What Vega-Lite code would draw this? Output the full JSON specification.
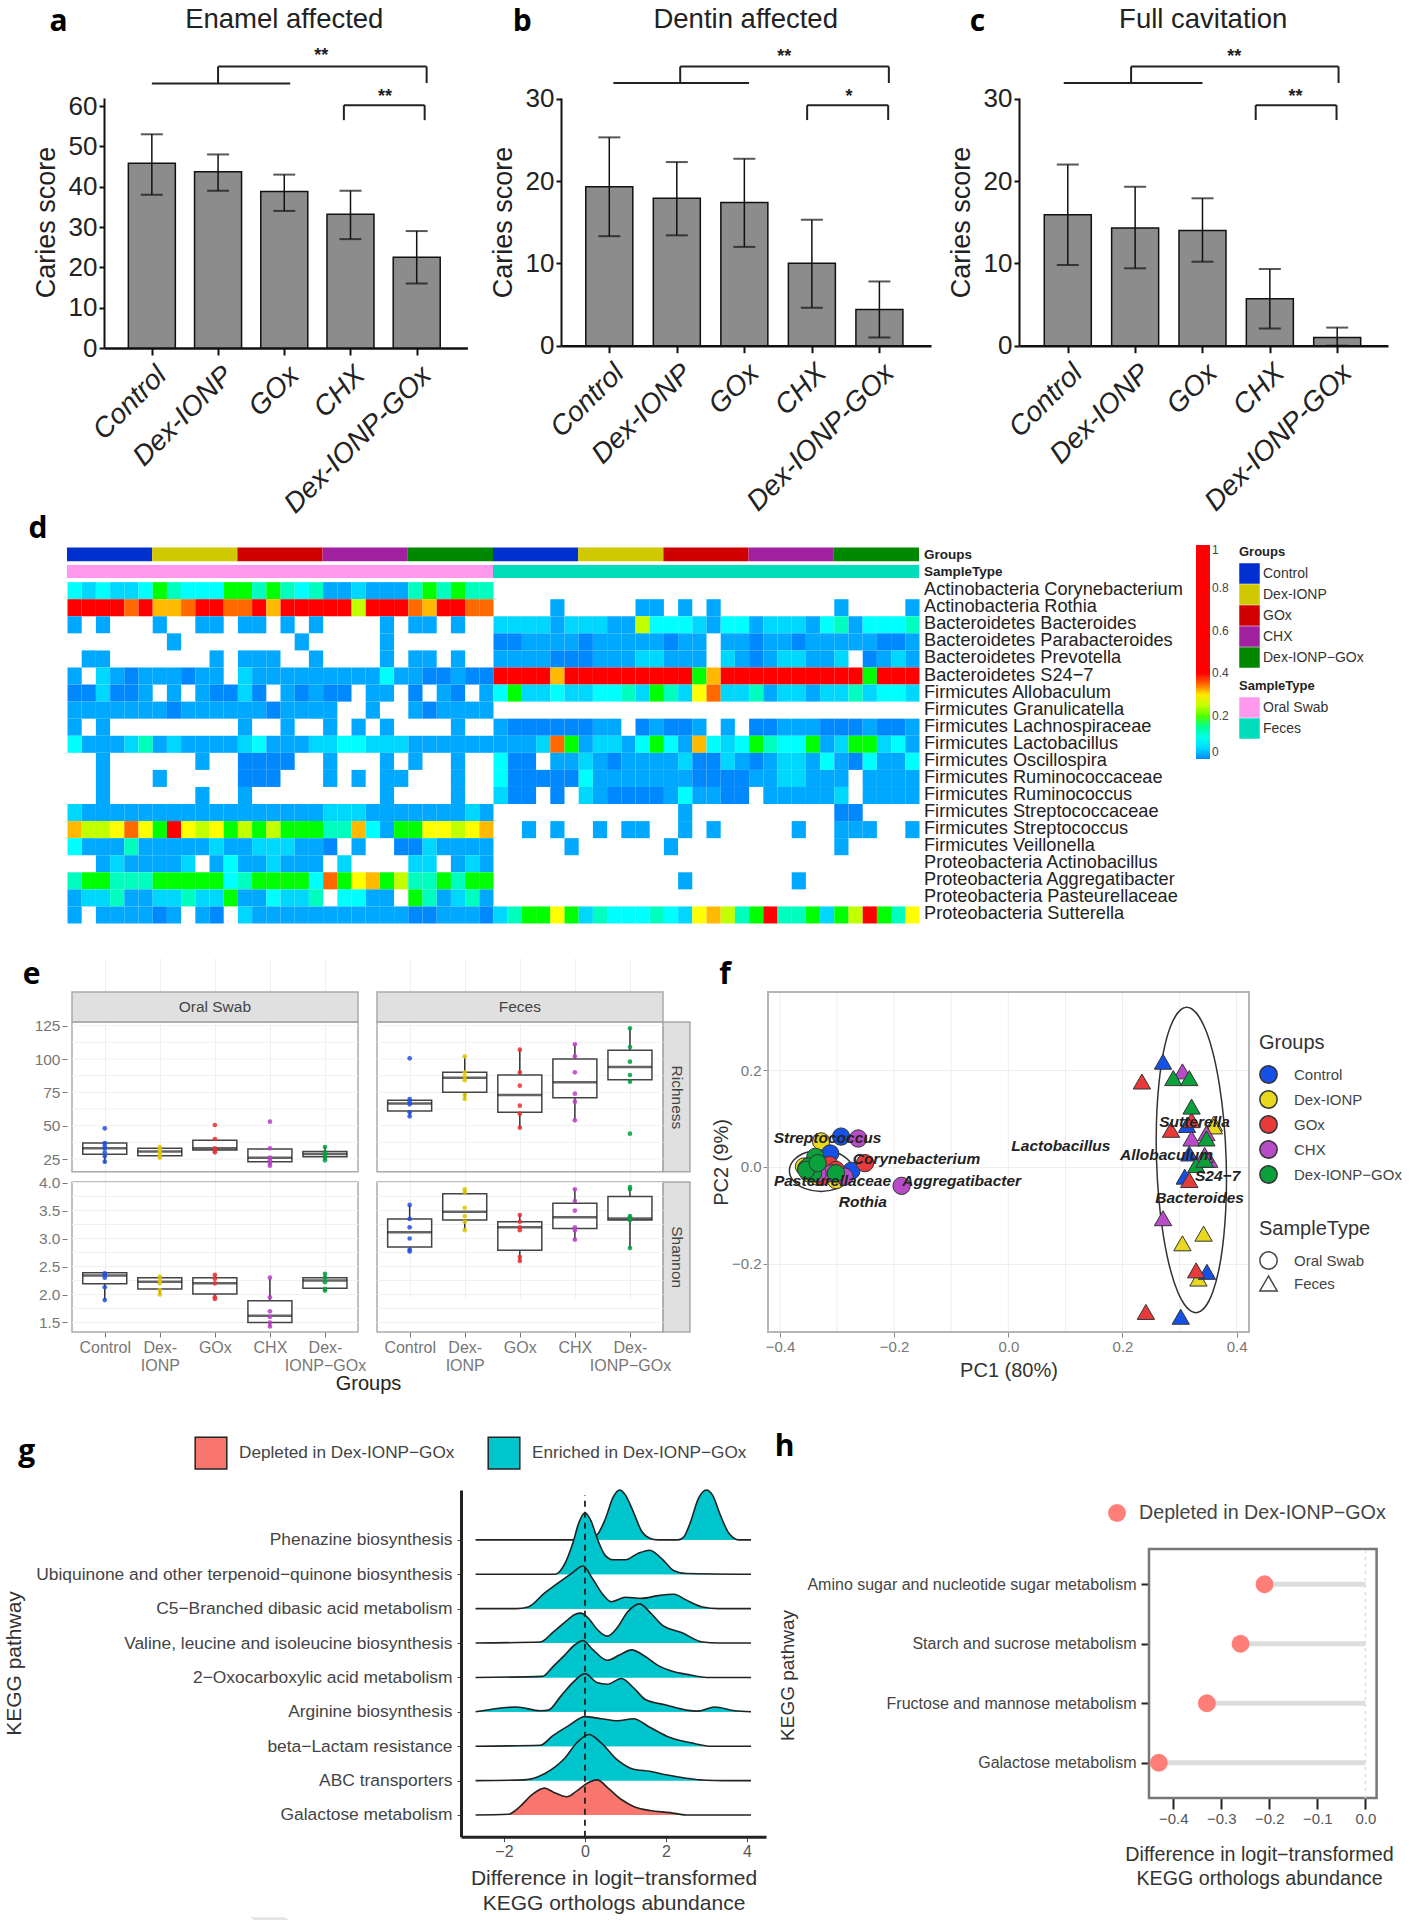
{"$schema":"https://vega.github.io/schema/vega-lite/v6.json","background":"white","padding":0,"spacing":-5,"resolve":{"scale":{"color":"independent","fill":"independent","shape":"independent"}},
"config":{"font":"Liberation Sans","view":{"stroke":null},"axis":{"grid":false}},
"datasets":{
"boxOR":[{"g":1,"q1":28.5,"med":33,"q3":37,"lo":22,"hi":38},{"g":2,"q1":27.5,"med":30.7,"q3":33,"lo":26,"hi":34},{"g":3,"q1":31.7,"med":33,"q3":39,"lo":30,"hi":40},{"g":4,"q1":23,"med":26,"q3":32.5,"lo":20,"hi":33},{"g":5,"q1":26.7,"med":28.7,"q3":30.7,"lo":24,"hi":34}],
"ptsOR":[{"g":1,"v":48},{"g":1,"v":37},{"g":1,"v":35},{"g":1,"v":33},{"g":1,"v":30},{"g":1,"v":27},{"g":1,"v":23},{"g":2,"v":34},{"g":2,"v":32},{"g":2,"v":30},{"g":2,"v":28},{"g":2,"v":26},{"g":3,"v":50.5},{"g":3,"v":40},{"g":3,"v":33},{"g":3,"v":31},{"g":3,"v":30},{"g":4,"v":53},{"g":4,"v":33},{"g":4,"v":26},{"g":4,"v":24},{"g":4,"v":22},{"g":4,"v":20},{"g":5,"v":34},{"g":5,"v":30},{"g":5,"v":28},{"g":5,"v":26},{"g":5,"v":24}],
"boxOS":[{"g":1,"q1":2.19,"med":2.34,"q3":2.39,"lo":1.9,"hi":2.39},{"g":2,"q1":2.1,"med":2.23,"q3":2.3,"lo":2,"hi":2.32},{"g":3,"q1":2.01,"med":2.2,"q3":2.3,"lo":1.92,"hi":2.35},{"g":4,"q1":1.5,"med":1.62,"q3":1.89,"lo":1.43,"hi":2.3},{"g":5,"q1":2.11,"med":2.25,"q3":2.3,"lo":2.07,"hi":2.37}],
"ptsOS":[{"g":1,"v":2.38},{"g":1,"v":2.35},{"g":1,"v":2.3},{"g":1,"v":2.13},{"g":1,"v":1.9},{"g":2,"v":2.32},{"g":2,"v":2.25},{"g":2,"v":2.2},{"g":2,"v":2.08},{"g":2,"v":2},{"g":3,"v":2.35},{"g":3,"v":2.28},{"g":3,"v":2.2},{"g":3,"v":1.95},{"g":3,"v":1.92},{"g":4,"v":2.3},{"g":4,"v":1.95},{"g":4,"v":1.7},{"g":4,"v":1.6},{"g":4,"v":1.5},{"g":4,"v":1.43},{"g":5,"v":2.37},{"g":5,"v":2.3},{"g":5,"v":2.22},{"g":5,"v":2.1},{"g":5,"v":2.07}],
"boxFR":[{"g":1,"q1":61,"med":66.7,"q3":69,"lo":57,"hi":70},{"g":2,"q1":75,"med":86,"q3":90,"lo":70,"hi":102},{"g":3,"q1":60,"med":73,"q3":88,"lo":48.5,"hi":107},{"g":4,"q1":71,"med":82.5,"q3":100,"lo":54,"hi":111},{"g":5,"q1":84.5,"med":94,"q3":106.5,"lo":83,"hi":123}],
"ptsFR":[{"g":1,"v":100.5},{"g":1,"v":70},{"g":1,"v":68},{"g":1,"v":66},{"g":1,"v":60},{"g":1,"v":57},{"g":2,"v":102},{"g":2,"v":90},{"g":2,"v":87},{"g":2,"v":84},{"g":2,"v":73},{"g":2,"v":70},{"g":3,"v":107},{"g":3,"v":90},{"g":3,"v":80},{"g":3,"v":65},{"g":3,"v":59},{"g":3,"v":48.5},{"g":4,"v":111},{"g":4,"v":102},{"g":4,"v":90},{"g":4,"v":74},{"g":4,"v":68},{"g":4,"v":54},{"g":5,"v":123},{"g":5,"v":109},{"g":5,"v":98},{"g":5,"v":88},{"g":5,"v":83},{"g":5,"v":44}],
"boxFS":[{"g":1,"q1":2.85,"med":3.11,"q3":3.35,"lo":2.77,"hi":3.6},{"g":2,"q1":3.33,"med":3.48,"q3":3.8,"lo":3.15,"hi":3.88},{"g":3,"q1":2.79,"med":3.2,"q3":3.3,"lo":2.6,"hi":3.42},{"g":4,"q1":3.18,"med":3.38,"q3":3.63,"lo":2.98,"hi":3.88},{"g":5,"q1":3.33,"med":3.36,"q3":3.75,"lo":2.83,"hi":3.92}],
"ptsFS":[{"g":1,"v":3.6},{"g":1,"v":3.35},{"g":1,"v":3.2},{"g":1,"v":3},{"g":1,"v":2.8},{"g":1,"v":2.77},{"g":2,"v":3.88},{"g":2,"v":3.83},{"g":2,"v":3.55},{"g":2,"v":3.4},{"g":2,"v":3.3},{"g":2,"v":3.15},{"g":3,"v":3.42},{"g":3,"v":3.3},{"g":3,"v":3.2},{"g":3,"v":3.15},{"g":3,"v":2.67},{"g":3,"v":2.6},{"g":4,"v":3.88},{"g":4,"v":3.67},{"g":4,"v":3.5},{"g":4,"v":3.2},{"g":4,"v":3.15},{"g":4,"v":2.98},{"g":5,"v":3.92},{"g":5,"v":3.88},{"g":5,"v":3.4},{"g":5,"v":3.37},{"g":5,"v":3.33},{"g":5,"v":2.83}],
"heat":[
{"r":0,"c":0,"v":0.08},{"r":0,"c":1,"v":0.05},{"r":0,"c":2,"v":0.08},{"r":0,"c":3,"v":0.05},{"r":0,"c":4,"v":0.05},{"r":0,"c":5,"v":0.08},{"r":0,"c":6,"v":0.19},{"r":0,"c":7,"v":0.13},{"r":0,"c":8,"v":0.08},{"r":0,"c":9,"v":0.08},{"r":0,"c":10,"v":0.08},{"r":0,"c":11,"v":0.19},{"r":0,"c":12,"v":0.19},{"r":0,"c":13,"v":0.13},{"r":0,"c":14,"v":0.19},{"r":0,"c":15,"v":0.13},{"r":0,"c":16,"v":0.08},{"r":0,"c":17,"v":0.13},{"r":0,"c":18,"v":0.02},{"r":0,"c":19,"v":0.02},{"r":0,"c":20,"v":0.05},{"r":0,"c":21,"v":0.02},{"r":0,"c":22,"v":0.02},{"r":0,"c":23,"v":0.02},{"r":0,"c":24,"v":0.13},{"r":0,"c":25,"v":0.19},{"r":0,"c":26,"v":0.13},{"r":0,"c":27,"v":0.19},{"r":0,"c":28,"v":0.13},{"r":0,"c":29,"v":0.13},
{"r":1,"c":0,"v":0.6},{"r":1,"c":1,"v":0.6},{"r":1,"c":2,"v":0.6},{"r":1,"c":3,"v":0.6},{"r":1,"c":4,"v":0.35},{"r":1,"c":5,"v":0.6},{"r":1,"c":6,"v":0.32},{"r":1,"c":7,"v":0.32},{"r":1,"c":8,"v":0.35},{"r":1,"c":9,"v":0.6},{"r":1,"c":10,"v":0.6},{"r":1,"c":11,"v":0.35},{"r":1,"c":12,"v":0.35},{"r":1,"c":13,"v":0.6},{"r":1,"c":14,"v":0.32},{"r":1,"c":15,"v":0.6},{"r":1,"c":16,"v":0.6},{"r":1,"c":17,"v":0.6},{"r":1,"c":18,"v":0.6},{"r":1,"c":19,"v":0.6},{"r":1,"c":20,"v":0.25},{"r":1,"c":21,"v":0.6},{"r":1,"c":22,"v":0.6},{"r":1,"c":23,"v":0.6},{"r":1,"c":24,"v":0.35},{"r":1,"c":25,"v":0.32},{"r":1,"c":26,"v":0.6},{"r":1,"c":27,"v":0.6},{"r":1,"c":28,"v":0.35},{"r":1,"c":29,"v":0.35},{"r":1,"c":34,"v":0.02},{"r":1,"c":40,"v":0.02},{"r":1,"c":41,"v":0.02},{"r":1,"c":43,"v":0.02},{"r":1,"c":45,"v":0.02},{"r":1,"c":54,"v":0.02},{"r":1,"c":59,"v":0.02},
{"r":2,"c":0,"v":0.02},{"r":2,"c":2,"v":0.02},{"r":2,"c":6,"v":0.02},{"r":2,"c":9,"v":0.02},{"r":2,"c":10,"v":0.02},{"r":2,"c":12,"v":0.02},{"r":2,"c":13,"v":0.02},{"r":2,"c":15,"v":0.02},{"r":2,"c":17,"v":0.02},{"r":2,"c":22,"v":0.02},{"r":2,"c":24,"v":0.02},{"r":2,"c":25,"v":0.02},{"r":2,"c":27,"v":0.02},{"r":2,"c":30,"v":0.05},{"r":2,"c":31,"v":0.05},{"r":2,"c":32,"v":0.05},{"r":2,"c":33,"v":0.05},{"r":2,"c":34,"v":0.02},{"r":2,"c":35,"v":0.05},{"r":2,"c":36,"v":0.05},{"r":2,"c":37,"v":0.05},{"r":2,"c":38,"v":0.02},{"r":2,"c":39,"v":0.02},{"r":2,"c":40,"v":0.25},{"r":2,"c":41,"v":0.08},{"r":2,"c":42,"v":0.08},{"r":2,"c":43,"v":0.08},{"r":2,"c":44,"v":0.05},{"r":2,"c":45,"v":0.02},{"r":2,"c":46,"v":0.08},{"r":2,"c":47,"v":0.08},{"r":2,"c":48,"v":0.02},{"r":2,"c":49,"v":0.05},{"r":2,"c":50,"v":0.05},{"r":2,"c":51,"v":0.05},{"r":2,"c":52,"v":0.02},{"r":2,"c":53,"v":0.08},{"r":2,"c":54,"v":0.13},{"r":2,"c":55,"v":0.02},{"r":2,"c":56,"v":0.08},{"r":2,"c":57,"v":0.08},{"r":2,"c":58,"v":0.08},{"r":2,"c":59,"v":0.13},
{"r":3,"c":7,"v":0.02},{"r":3,"c":16,"v":0.02},{"r":3,"c":22,"v":0.02},{"r":3,"c":30,"v":0},{"r":3,"c":31,"v":0},{"r":3,"c":32,"v":0.02},{"r":3,"c":33,"v":0.02},{"r":3,"c":34,"v":0.02},{"r":3,"c":35,"v":0.02},{"r":3,"c":36,"v":0},{"r":3,"c":37,"v":0.02},{"r":3,"c":38,"v":0.02},{"r":3,"c":39,"v":0.02},{"r":3,"c":40,"v":0.02},{"r":3,"c":41,"v":0.02},{"r":3,"c":42,"v":0},{"r":3,"c":43,"v":0.02},{"r":3,"c":44,"v":0.02},{"r":3,"c":46,"v":0.02},{"r":3,"c":47,"v":0.02},{"r":3,"c":48,"v":0},{"r":3,"c":49,"v":0.02},{"r":3,"c":50,"v":0.02},{"r":3,"c":51,"v":0},{"r":3,"c":52,"v":0.02},{"r":3,"c":53,"v":0.02},{"r":3,"c":54,"v":0.02},{"r":3,"c":55,"v":0.02},{"r":3,"c":56,"v":0.02},{"r":3,"c":57,"v":0},{"r":3,"c":58,"v":0},{"r":3,"c":59,"v":0.02},
{"r":4,"c":1,"v":0.02},{"r":4,"c":2,"v":0.02},{"r":4,"c":10,"v":0.02},{"r":4,"c":12,"v":0.02},{"r":4,"c":13,"v":0.02},{"r":4,"c":14,"v":0.02},{"r":4,"c":17,"v":0.02},{"r":4,"c":22,"v":0.02},{"r":4,"c":24,"v":0.02},{"r":4,"c":25,"v":0.02},{"r":4,"c":27,"v":0.02},{"r":4,"c":30,"v":0.02},{"r":4,"c":31,"v":0.02},{"r":4,"c":32,"v":0.02},{"r":4,"c":33,"v":0.02},{"r":4,"c":34,"v":0},{"r":4,"c":35,"v":0},{"r":4,"c":36,"v":0},{"r":4,"c":37,"v":0.02},{"r":4,"c":38,"v":0.02},{"r":4,"c":39,"v":0.02},{"r":4,"c":40,"v":0.05},{"r":4,"c":41,"v":0.05},{"r":4,"c":42,"v":0.02},{"r":4,"c":43,"v":0.02},{"r":4,"c":44,"v":0.02},{"r":4,"c":46,"v":0.05},{"r":4,"c":47,"v":0.02},{"r":4,"c":48,"v":0},{"r":4,"c":49,"v":0.02},{"r":4,"c":50,"v":0.05},{"r":4,"c":51,"v":0.05},{"r":4,"c":52,"v":0.02},{"r":4,"c":53,"v":0.02},{"r":4,"c":54,"v":0.05},{"r":4,"c":56,"v":0},{"r":4,"c":57,"v":0.02},{"r":4,"c":58,"v":0.05},{"r":4,"c":59,"v":0.02},
{"r":5,"c":0,"v":0.02},{"r":5,"c":2,"v":0.05},{"r":5,"c":3,"v":0.02},{"r":5,"c":4,"v":0},{"r":5,"c":5,"v":0.02},{"r":5,"c":6,"v":0.02},{"r":5,"c":7,"v":0.02},{"r":5,"c":8,"v":0},{"r":5,"c":9,"v":0.02},{"r":5,"c":10,"v":0.02},{"r":5,"c":12,"v":0.05},{"r":5,"c":13,"v":0.02},{"r":5,"c":14,"v":0.02},{"r":5,"c":15,"v":0.02},{"r":5,"c":16,"v":0.02},{"r":5,"c":17,"v":0.02},{"r":5,"c":18,"v":0.02},{"r":5,"c":19,"v":0.02},{"r":5,"c":20,"v":0.02},{"r":5,"c":21,"v":0.02},{"r":5,"c":22,"v":0.08},{"r":5,"c":23,"v":0.02},{"r":5,"c":24,"v":0.02},{"r":5,"c":25,"v":0},{"r":5,"c":26,"v":0},{"r":5,"c":27,"v":0.02},{"r":5,"c":28,"v":0},{"r":5,"c":29,"v":0},{"r":5,"c":30,"v":0.6},{"r":5,"c":31,"v":0.6},{"r":5,"c":32,"v":0.6},{"r":5,"c":33,"v":0.6},{"r":5,"c":34,"v":0.32},{"r":5,"c":35,"v":0.6},{"r":5,"c":36,"v":0.6},{"r":5,"c":37,"v":0.6},{"r":5,"c":38,"v":0.6},{"r":5,"c":39,"v":0.6},{"r":5,"c":40,"v":0.6},{"r":5,"c":41,"v":0.6},{"r":5,"c":42,"v":0.6},{"r":5,"c":43,"v":0.6},{"r":5,"c":44,"v":0.19},{"r":5,"c":45,"v":0.32},{"r":5,"c":46,"v":0.6},{"r":5,"c":47,"v":0.6},{"r":5,"c":48,"v":0.6},{"r":5,"c":49,"v":0.6},{"r":5,"c":50,"v":0.6},{"r":5,"c":51,"v":0.6},{"r":5,"c":52,"v":0.6},{"r":5,"c":53,"v":0.6},{"r":5,"c":54,"v":0.6},{"r":5,"c":55,"v":0.6},{"r":5,"c":56,"v":0.19},{"r":5,"c":57,"v":0.6},{"r":5,"c":58,"v":0.6},{"r":5,"c":59,"v":0.6},
{"r":6,"c":0,"v":0},{"r":6,"c":1,"v":0},{"r":6,"c":2,"v":0.05},{"r":6,"c":3,"v":0},{"r":6,"c":4,"v":0},{"r":6,"c":5,"v":0.02},{"r":6,"c":7,"v":0.02},{"r":6,"c":9,"v":0.02},{"r":6,"c":10,"v":0},{"r":6,"c":11,"v":0},{"r":6,"c":12,"v":0.05},{"r":6,"c":13,"v":0},{"r":6,"c":15,"v":0.02},{"r":6,"c":16,"v":0},{"r":6,"c":17,"v":0.02},{"r":6,"c":18,"v":0},{"r":6,"c":19,"v":0},{"r":6,"c":21,"v":0.02},{"r":6,"c":22,"v":0.02},{"r":6,"c":24,"v":0},{"r":6,"c":26,"v":0.02},{"r":6,"c":27,"v":0},{"r":6,"c":29,"v":0.02},{"r":6,"c":30,"v":0.08},{"r":6,"c":31,"v":0.19},{"r":6,"c":32,"v":0.05},{"r":6,"c":33,"v":0.05},{"r":6,"c":34,"v":0.08},{"r":6,"c":35,"v":0.05},{"r":6,"c":36,"v":0.05},{"r":6,"c":37,"v":0.08},{"r":6,"c":38,"v":0.08},{"r":6,"c":39,"v":0.13},{"r":6,"c":40,"v":0.05},{"r":6,"c":41,"v":0.19},{"r":6,"c":42,"v":0.13},{"r":6,"c":43,"v":0.05},{"r":6,"c":44,"v":0.29},{"r":6,"c":45,"v":0.35},{"r":6,"c":46,"v":0.05},{"r":6,"c":47,"v":0.05},{"r":6,"c":48,"v":0.13},{"r":6,"c":49,"v":0.02},{"r":6,"c":50,"v":0.05},{"r":6,"c":51,"v":0.05},{"r":6,"c":52,"v":0.02},{"r":6,"c":53,"v":0.05},{"r":6,"c":54,"v":0.05},{"r":6,"c":55,"v":0.13},{"r":6,"c":56,"v":0.05},{"r":6,"c":57,"v":0.08},{"r":6,"c":58,"v":0.08},{"r":6,"c":59,"v":0.05},
{"r":7,"c":0,"v":0.02},{"r":7,"c":1,"v":0.02},{"r":7,"c":2,"v":0.02},{"r":7,"c":3,"v":0.02},{"r":7,"c":4,"v":0.02},{"r":7,"c":5,"v":0.02},{"r":7,"c":6,"v":0.02},{"r":7,"c":7,"v":0},{"r":7,"c":8,"v":0.02},{"r":7,"c":9,"v":0.02},{"r":7,"c":10,"v":0.02},{"r":7,"c":11,"v":0.02},{"r":7,"c":12,"v":0.02},{"r":7,"c":13,"v":0.02},{"r":7,"c":14,"v":0},{"r":7,"c":15,"v":0.02},{"r":7,"c":16,"v":0.02},{"r":7,"c":17,"v":0.02},{"r":7,"c":18,"v":0.02},{"r":7,"c":21,"v":0.02},{"r":7,"c":24,"v":0.02},{"r":7,"c":25,"v":0},{"r":7,"c":26,"v":0.02},{"r":7,"c":27,"v":0.02},{"r":7,"c":28,"v":0.02},{"r":7,"c":29,"v":0.02},
{"r":8,"c":0,"v":0.02},{"r":8,"c":2,"v":0.02},{"r":8,"c":12,"v":0.02},{"r":8,"c":15,"v":0.02},{"r":8,"c":18,"v":0.02},{"r":8,"c":20,"v":0.02},{"r":8,"c":22,"v":0.02},{"r":8,"c":27,"v":0.02},{"r":8,"c":30,"v":0.02},{"r":8,"c":31,"v":0},{"r":8,"c":32,"v":0},{"r":8,"c":33,"v":0},{"r":8,"c":34,"v":0},{"r":8,"c":35,"v":0},{"r":8,"c":36,"v":0},{"r":8,"c":37,"v":0.02},{"r":8,"c":38,"v":0.02},{"r":8,"c":40,"v":0},{"r":8,"c":41,"v":0.02},{"r":8,"c":42,"v":0},{"r":8,"c":43,"v":0},{"r":8,"c":44,"v":0.02},{"r":8,"c":46,"v":0.02},{"r":8,"c":48,"v":0},{"r":8,"c":49,"v":0},{"r":8,"c":50,"v":0.02},{"r":8,"c":51,"v":0.02},{"r":8,"c":52,"v":0.02},{"r":8,"c":53,"v":0},{"r":8,"c":54,"v":0},{"r":8,"c":55,"v":0},{"r":8,"c":56,"v":0.02},{"r":8,"c":57,"v":0},{"r":8,"c":58,"v":0},{"r":8,"c":59,"v":0.02},
{"r":9,"c":0,"v":0.08},{"r":9,"c":1,"v":0.02},{"r":9,"c":2,"v":0.02},{"r":9,"c":3,"v":0.02},{"r":9,"c":4,"v":0.05},{"r":9,"c":5,"v":0.13},{"r":9,"c":6,"v":0.02},{"r":9,"c":7,"v":0.05},{"r":9,"c":8,"v":0.02},{"r":9,"c":9,"v":0.02},{"r":9,"c":10,"v":0.02},{"r":9,"c":11,"v":0.02},{"r":9,"c":12,"v":0.05},{"r":9,"c":13,"v":0.08},{"r":9,"c":14,"v":0.02},{"r":9,"c":15,"v":0.02},{"r":9,"c":16,"v":0.02},{"r":9,"c":17,"v":0.05},{"r":9,"c":18,"v":0.05},{"r":9,"c":19,"v":0.08},{"r":9,"c":20,"v":0.08},{"r":9,"c":21,"v":0.05},{"r":9,"c":22,"v":0.05},{"r":9,"c":23,"v":0.05},{"r":9,"c":24,"v":0.02},{"r":9,"c":25,"v":0.02},{"r":9,"c":26,"v":0.02},{"r":9,"c":27,"v":0.02},{"r":9,"c":28,"v":0.02},{"r":9,"c":29,"v":0.02},{"r":9,"c":30,"v":0.02},{"r":9,"c":31,"v":0.02},{"r":9,"c":32,"v":0.02},{"r":9,"c":33,"v":0.05},{"r":9,"c":34,"v":0.35},{"r":9,"c":35,"v":0.19},{"r":9,"c":36,"v":0.02},{"r":9,"c":37,"v":0.05},{"r":9,"c":38,"v":0.05},{"r":9,"c":39,"v":0.02},{"r":9,"c":40,"v":0.08},{"r":9,"c":41,"v":0.19},{"r":9,"c":42,"v":0.08},{"r":9,"c":43,"v":0.02},{"r":9,"c":44,"v":0.32},{"r":9,"c":45,"v":0.08},{"r":9,"c":46,"v":0.05},{"r":9,"c":47,"v":0.08},{"r":9,"c":48,"v":0.19},{"r":9,"c":49,"v":0.13},{"r":9,"c":50,"v":0.08},{"r":9,"c":51,"v":0.08},{"r":9,"c":52,"v":0.19},{"r":9,"c":53,"v":0.02},{"r":9,"c":54,"v":0.05},{"r":9,"c":55,"v":0.19},{"r":9,"c":56,"v":0.19},{"r":9,"c":57,"v":0.05},{"r":9,"c":58,"v":0.08},{"r":9,"c":59,"v":0.02},
{"r":10,"c":2,"v":0.02},{"r":10,"c":9,"v":0.02},{"r":10,"c":12,"v":0},{"r":10,"c":13,"v":0},{"r":10,"c":14,"v":0},{"r":10,"c":15,"v":0},{"r":10,"c":18,"v":0.02},{"r":10,"c":22,"v":0.02},{"r":10,"c":24,"v":0.02},{"r":10,"c":27,"v":0.02},{"r":10,"c":30,"v":0.08},{"r":10,"c":31,"v":0},{"r":10,"c":32,"v":0},{"r":10,"c":34,"v":0.02},{"r":10,"c":35,"v":0.02},{"r":10,"c":36,"v":0.05},{"r":10,"c":37,"v":0.02},{"r":10,"c":38,"v":0},{"r":10,"c":39,"v":0.02},{"r":10,"c":40,"v":0.02},{"r":10,"c":41,"v":0.02},{"r":10,"c":42,"v":0.02},{"r":10,"c":43,"v":0.05},{"r":10,"c":44,"v":0},{"r":10,"c":45,"v":0},{"r":10,"c":46,"v":0.05},{"r":10,"c":47,"v":0.02},{"r":10,"c":48,"v":0},{"r":10,"c":49,"v":0.02},{"r":10,"c":50,"v":0.05},{"r":10,"c":51,"v":0.05},{"r":10,"c":52,"v":0.02},{"r":10,"c":53,"v":0.08},{"r":10,"c":54,"v":0.02},{"r":10,"c":55,"v":0},{"r":10,"c":56,"v":0.08},{"r":10,"c":57,"v":0.02},{"r":10,"c":58,"v":0.02},{"r":10,"c":59,"v":0.08},
{"r":11,"c":2,"v":0.02},{"r":11,"c":6,"v":0.02},{"r":11,"c":12,"v":0},{"r":11,"c":13,"v":0},{"r":11,"c":14,"v":0},{"r":11,"c":18,"v":0.02},{"r":11,"c":20,"v":0.02},{"r":11,"c":22,"v":0.02},{"r":11,"c":23,"v":0.02},{"r":11,"c":27,"v":0.02},{"r":11,"c":30,"v":0.08},{"r":11,"c":31,"v":0},{"r":11,"c":32,"v":0},{"r":11,"c":33,"v":0},{"r":11,"c":34,"v":0},{"r":11,"c":35,"v":0},{"r":11,"c":36,"v":0.08},{"r":11,"c":37,"v":0.02},{"r":11,"c":38,"v":0.02},{"r":11,"c":39,"v":0.02},{"r":11,"c":40,"v":0.02},{"r":11,"c":41,"v":0.02},{"r":11,"c":42,"v":0.02},{"r":11,"c":43,"v":0.02},{"r":11,"c":44,"v":0},{"r":11,"c":45,"v":0},{"r":11,"c":46,"v":0},{"r":11,"c":47,"v":0},{"r":11,"c":48,"v":0.02},{"r":11,"c":49,"v":0.02},{"r":11,"c":50,"v":0.05},{"r":11,"c":51,"v":0.05},{"r":11,"c":52,"v":0.02},{"r":11,"c":53,"v":0.02},{"r":11,"c":54,"v":0.02},{"r":11,"c":56,"v":0.02},{"r":11,"c":57,"v":0.02},{"r":11,"c":58,"v":0.02},{"r":11,"c":59,"v":0.02},
{"r":12,"c":2,"v":0.02},{"r":12,"c":9,"v":0.02},{"r":12,"c":12,"v":0.02},{"r":12,"c":22,"v":0.02},{"r":12,"c":27,"v":0.02},{"r":12,"c":30,"v":0.05},{"r":12,"c":31,"v":0},{"r":12,"c":32,"v":0},{"r":12,"c":34,"v":0},{"r":12,"c":36,"v":0.05},{"r":12,"c":37,"v":0.02},{"r":12,"c":38,"v":0},{"r":12,"c":39,"v":0},{"r":12,"c":40,"v":0},{"r":12,"c":41,"v":0},{"r":12,"c":42,"v":0.02},{"r":12,"c":43,"v":0.08},{"r":12,"c":44,"v":0.02},{"r":12,"c":45,"v":0.02},{"r":12,"c":46,"v":0},{"r":12,"c":47,"v":0},{"r":12,"c":49,"v":0.02},{"r":12,"c":50,"v":0.02},{"r":12,"c":51,"v":0.02},{"r":12,"c":52,"v":0.02},{"r":12,"c":53,"v":0.02},{"r":12,"c":54,"v":0.05},{"r":12,"c":56,"v":0.02},{"r":12,"c":57,"v":0.02},{"r":12,"c":58,"v":0.02},{"r":12,"c":59,"v":0.02},
{"r":13,"c":0,"v":0.05},{"r":13,"c":1,"v":0.02},{"r":13,"c":2,"v":0.02},{"r":13,"c":3,"v":0.02},{"r":13,"c":4,"v":0.02},{"r":13,"c":5,"v":0.02},{"r":13,"c":6,"v":0.02},{"r":13,"c":7,"v":0.02},{"r":13,"c":8,"v":0.02},{"r":13,"c":9,"v":0.02},{"r":13,"c":10,"v":0.02},{"r":13,"c":11,"v":0.02},{"r":13,"c":12,"v":0.02},{"r":13,"c":13,"v":0.02},{"r":13,"c":14,"v":0.02},{"r":13,"c":15,"v":0.02},{"r":13,"c":16,"v":0.02},{"r":13,"c":17,"v":0.02},{"r":13,"c":18,"v":0.05},{"r":13,"c":19,"v":0.05},{"r":13,"c":20,"v":0.05},{"r":13,"c":21,"v":0.02},{"r":13,"c":22,"v":0.02},{"r":13,"c":23,"v":0.02},{"r":13,"c":24,"v":0.02},{"r":13,"c":25,"v":0.02},{"r":13,"c":26,"v":0.02},{"r":13,"c":27,"v":0.02},{"r":13,"c":28,"v":0.05},{"r":13,"c":29,"v":0.02},{"r":13,"c":43,"v":0.02},{"r":13,"c":54,"v":0},{"r":13,"c":55,"v":0},
{"r":14,"c":0,"v":0.32},{"r":14,"c":1,"v":0.25},{"r":14,"c":2,"v":0.25},{"r":14,"c":3,"v":0.29},{"r":14,"c":4,"v":0.35},{"r":14,"c":5,"v":0.29},{"r":14,"c":6,"v":0.19},{"r":14,"c":7,"v":0.6},{"r":14,"c":8,"v":0.29},{"r":14,"c":9,"v":0.25},{"r":14,"c":10,"v":0.29},{"r":14,"c":11,"v":0.19},{"r":14,"c":12,"v":0.25},{"r":14,"c":13,"v":0.19},{"r":14,"c":14,"v":0.25},{"r":14,"c":15,"v":0.19},{"r":14,"c":16,"v":0.19},{"r":14,"c":17,"v":0.19},{"r":14,"c":18,"v":0.13},{"r":14,"c":19,"v":0.13},{"r":14,"c":20,"v":0.32},{"r":14,"c":21,"v":0.08},{"r":14,"c":22,"v":0.02},{"r":14,"c":23,"v":0.19},{"r":14,"c":24,"v":0.19},{"r":14,"c":25,"v":0.29},{"r":14,"c":26,"v":0.29},{"r":14,"c":27,"v":0.25},{"r":14,"c":28,"v":0.29},{"r":14,"c":29,"v":0.32},{"r":14,"c":32,"v":0.02},{"r":14,"c":34,"v":0.02},{"r":14,"c":37,"v":0.02},{"r":14,"c":39,"v":0.02},{"r":14,"c":40,"v":0.02},{"r":14,"c":43,"v":0.02},{"r":14,"c":45,"v":0.02},{"r":14,"c":51,"v":0.02},{"r":14,"c":54,"v":0.02},{"r":14,"c":55,"v":0.02},{"r":14,"c":56,"v":0.02},{"r":14,"c":59,"v":0.02},
{"r":15,"c":0,"v":0.08},{"r":15,"c":1,"v":0.02},{"r":15,"c":2,"v":0.02},{"r":15,"c":3,"v":0.02},{"r":15,"c":4,"v":0.13},{"r":15,"c":5,"v":0.02},{"r":15,"c":6,"v":0.02},{"r":15,"c":7,"v":0.02},{"r":15,"c":8,"v":0.02},{"r":15,"c":9,"v":0.02},{"r":15,"c":10,"v":0.05},{"r":15,"c":11,"v":0.02},{"r":15,"c":12,"v":0.02},{"r":15,"c":13,"v":0.05},{"r":15,"c":14,"v":0.05},{"r":15,"c":15,"v":0.05},{"r":15,"c":16,"v":0.02},{"r":15,"c":17,"v":0.02},{"r":15,"c":18,"v":0},{"r":15,"c":20,"v":0.02},{"r":15,"c":23,"v":0},{"r":15,"c":24,"v":0},{"r":15,"c":25,"v":0.05},{"r":15,"c":26,"v":0.02},{"r":15,"c":27,"v":0.02},{"r":15,"c":28,"v":0.02},{"r":15,"c":29,"v":0.02},{"r":15,"c":35,"v":0.02},{"r":15,"c":42,"v":0.02},{"r":15,"c":54,"v":0.02},
{"r":16,"c":2,"v":0.02},{"r":16,"c":3,"v":0.05},{"r":16,"c":4,"v":0.02},{"r":16,"c":5,"v":0.02},{"r":16,"c":6,"v":0.02},{"r":16,"c":7,"v":0.02},{"r":16,"c":8,"v":0.05},{"r":16,"c":10,"v":0.02},{"r":16,"c":11,"v":0.08},{"r":16,"c":12,"v":0.02},{"r":16,"c":13,"v":0.02},{"r":16,"c":14,"v":0.05},{"r":16,"c":15,"v":0.02},{"r":16,"c":16,"v":0.02},{"r":16,"c":17,"v":0.02},{"r":16,"c":19,"v":0.05},{"r":16,"c":24,"v":0.05},{"r":16,"c":25,"v":0.05},{"r":16,"c":27,"v":0.02},{"r":16,"c":28,"v":0.05},{"r":16,"c":29,"v":0.02},
{"r":17,"c":0,"v":0.13},{"r":17,"c":1,"v":0.19},{"r":17,"c":2,"v":0.19},{"r":17,"c":3,"v":0.13},{"r":17,"c":4,"v":0.13},{"r":17,"c":5,"v":0.13},{"r":17,"c":6,"v":0.19},{"r":17,"c":7,"v":0.19},{"r":17,"c":8,"v":0.19},{"r":17,"c":9,"v":0.19},{"r":17,"c":10,"v":0.19},{"r":17,"c":11,"v":0.08},{"r":17,"c":12,"v":0.13},{"r":17,"c":13,"v":0.19},{"r":17,"c":14,"v":0.19},{"r":17,"c":15,"v":0.19},{"r":17,"c":16,"v":0.19},{"r":17,"c":17,"v":0.08},{"r":17,"c":18,"v":0.35},{"r":17,"c":19,"v":0.19},{"r":17,"c":20,"v":0.29},{"r":17,"c":21,"v":0.32},{"r":17,"c":22,"v":0.19},{"r":17,"c":23,"v":0.25},{"r":17,"c":24,"v":0.13},{"r":17,"c":25,"v":0.13},{"r":17,"c":26,"v":0.19},{"r":17,"c":27,"v":0.13},{"r":17,"c":28,"v":0.19},{"r":17,"c":29,"v":0.19},{"r":17,"c":43,"v":0.02},{"r":17,"c":51,"v":0.02},
{"r":18,"c":0,"v":0.02},{"r":18,"c":1,"v":0.05},{"r":18,"c":2,"v":0.05},{"r":18,"c":3,"v":0.13},{"r":18,"c":4,"v":0.02},{"r":18,"c":5,"v":0.02},{"r":18,"c":6,"v":0.05},{"r":18,"c":7,"v":0.05},{"r":18,"c":8,"v":0.13},{"r":18,"c":9,"v":0.05},{"r":18,"c":10,"v":0.05},{"r":18,"c":11,"v":0.19},{"r":18,"c":12,"v":0.02},{"r":18,"c":13,"v":0.02},{"r":18,"c":14,"v":0.08},{"r":18,"c":15,"v":0.05},{"r":18,"c":16,"v":0.05},{"r":18,"c":17,"v":0.13},{"r":18,"c":19,"v":0.08},{"r":18,"c":20,"v":0.08},{"r":18,"c":21,"v":0.02},{"r":18,"c":22,"v":0.02},{"r":18,"c":24,"v":0.19},{"r":18,"c":25,"v":0.13},{"r":18,"c":26,"v":0.02},{"r":18,"c":27,"v":0.05},{"r":18,"c":28,"v":0.13},{"r":18,"c":29,"v":0.02},
{"r":19,"c":0,"v":0.02},{"r":19,"c":2,"v":0.02},{"r":19,"c":3,"v":0.02},{"r":19,"c":4,"v":0.02},{"r":19,"c":5,"v":0.02},{"r":19,"c":6,"v":0},{"r":19,"c":7,"v":0.02},{"r":19,"c":9,"v":0.02},{"r":19,"c":10,"v":0},{"r":19,"c":12,"v":0.05},{"r":19,"c":13,"v":0.02},{"r":19,"c":14,"v":0.02},{"r":19,"c":15,"v":0.02},{"r":19,"c":16,"v":0.02},{"r":19,"c":17,"v":0.02},{"r":19,"c":18,"v":0.02},{"r":19,"c":19,"v":0.02},{"r":19,"c":20,"v":0.02},{"r":19,"c":21,"v":0.02},{"r":19,"c":22,"v":0.02},{"r":19,"c":23,"v":0.02},{"r":19,"c":24,"v":0},{"r":19,"c":25,"v":0},{"r":19,"c":26,"v":0.02},{"r":19,"c":27,"v":0.02},{"r":19,"c":28,"v":0.02},{"r":19,"c":29,"v":0},{"r":19,"c":30,"v":0.05},{"r":19,"c":31,"v":0.13},{"r":19,"c":32,"v":0.19},{"r":19,"c":33,"v":0.19},{"r":19,"c":34,"v":0.29},{"r":19,"c":35,"v":0.19},{"r":19,"c":36,"v":0.05},{"r":19,"c":37,"v":0.13},{"r":19,"c":38,"v":0.08},{"r":19,"c":39,"v":0.08},{"r":19,"c":40,"v":0.08},{"r":19,"c":41,"v":0.13},{"r":19,"c":42,"v":0.08},{"r":19,"c":43,"v":0.05},{"r":19,"c":44,"v":0.29},{"r":19,"c":45,"v":0.32},{"r":19,"c":46,"v":0.25},{"r":19,"c":47,"v":0.13},{"r":19,"c":48,"v":0.19},{"r":19,"c":49,"v":0.6},{"r":19,"c":50,"v":0.13},{"r":19,"c":51,"v":0.13},{"r":19,"c":52,"v":0.19},{"r":19,"c":53,"v":0.05},{"r":19,"c":54,"v":0.19},{"r":19,"c":55,"v":0.25},{"r":19,"c":56,"v":0.6},{"r":19,"c":57,"v":0.19},{"r":19,"c":58,"v":0.13},{"r":19,"c":59,"v":0.29}],
"ridges":[
{"r":9,"x":-2.7,"t":9,"dir":"Enriched"},{"r":9,"x":0,"t":9,"dir":"Enriched"},{"r":9,"x":0.3,"t":9.15,"dir":"Enriched"},{"r":9,"x":0.5,"t":9.6,"dir":"Enriched"},{"r":9,"x":0.7,"t":10.25,"dir":"Enriched"},{"r":9,"x":0.86,"t":10.45,"dir":"Enriched"},{"r":9,"x":1,"t":10.3,"dir":"Enriched"},{"r":9,"x":1.2,"t":9.8,"dir":"Enriched"},{"r":9,"x":1.4,"t":9.25,"dir":"Enriched"},{"r":9,"x":1.6,"t":9.05,"dir":"Enriched"},{"r":9,"x":1.8,"t":9,"dir":"Enriched"},{"r":9,"x":2.3,"t":9,"dir":"Enriched"},{"r":9,"x":2.45,"t":9.1,"dir":"Enriched"},{"r":9,"x":2.6,"t":9.5,"dir":"Enriched"},{"r":9,"x":2.8,"t":10.2,"dir":"Enriched"},{"r":9,"x":3,"t":10.45,"dir":"Enriched"},{"r":9,"x":3.15,"t":10.3,"dir":"Enriched"},{"r":9,"x":3.35,"t":9.7,"dir":"Enriched"},{"r":9,"x":3.55,"t":9.2,"dir":"Enriched"},{"r":9,"x":3.8,"t":9,"dir":"Enriched"},{"r":9,"x":4.1,"t":9,"dir":"Enriched"},
{"r":8,"x":-2.7,"t":8,"dir":"Enriched"},{"r":8,"x":-0.73,"t":8,"dir":"Enriched"},{"r":8,"x":-0.5,"t":8.3,"dir":"Enriched"},{"r":8,"x":-0.3,"t":8.9,"dir":"Enriched"},{"r":8,"x":-0.15,"t":9.5,"dir":"Enriched"},{"r":8,"x":0,"t":9.79,"dir":"Enriched"},{"r":8,"x":0.15,"t":9.55,"dir":"Enriched"},{"r":8,"x":0.3,"t":9.05,"dir":"Enriched"},{"r":8,"x":0.5,"t":8.55,"dir":"Enriched"},{"r":8,"x":0.7,"t":8.42,"dir":"Enriched"},{"r":8,"x":1,"t":8.42,"dir":"Enriched"},{"r":8,"x":1.3,"t":8.6,"dir":"Enriched"},{"r":8,"x":1.6,"t":8.7,"dir":"Enriched"},{"r":8,"x":1.9,"t":8.45,"dir":"Enriched"},{"r":8,"x":2.2,"t":8.1,"dir":"Enriched"},{"r":8,"x":2.5,"t":8.02,"dir":"Enriched"},{"r":8,"x":4.1,"t":8,"dir":"Enriched"},
{"r":7,"x":-2.7,"t":7,"dir":"Enriched"},{"r":7,"x":-1.7,"t":7,"dir":"Enriched"},{"r":7,"x":-1.4,"t":7.05,"dir":"Enriched"},{"r":7,"x":-1,"t":7.45,"dir":"Enriched"},{"r":7,"x":-0.6,"t":7.8,"dir":"Enriched"},{"r":7,"x":-0.3,"t":8.05,"dir":"Enriched"},{"r":7,"x":-0.05,"t":8.24,"dir":"Enriched"},{"r":7,"x":0.2,"t":7.85,"dir":"Enriched"},{"r":7,"x":0.45,"t":7.4,"dir":"Enriched"},{"r":7,"x":0.65,"t":7.2,"dir":"Enriched"},{"r":7,"x":1,"t":7.33,"dir":"Enriched"},{"r":7,"x":1.4,"t":7.3,"dir":"Enriched"},{"r":7,"x":1.8,"t":7.38,"dir":"Enriched"},{"r":7,"x":2.2,"t":7.42,"dir":"Enriched"},{"r":7,"x":2.5,"t":7.25,"dir":"Enriched"},{"r":7,"x":2.9,"t":7.05,"dir":"Enriched"},{"r":7,"x":3.3,"t":7,"dir":"Enriched"},{"r":7,"x":4.1,"t":7,"dir":"Enriched"},
{"r":6,"x":-2.7,"t":6,"dir":"Enriched"},{"r":6,"x":-1.1,"t":6.03,"dir":"Enriched"},{"r":6,"x":-0.8,"t":6.3,"dir":"Enriched"},{"r":6,"x":-0.5,"t":6.6,"dir":"Enriched"},{"r":6,"x":-0.25,"t":6.83,"dir":"Enriched"},{"r":6,"x":-0.1,"t":6.87,"dir":"Enriched"},{"r":6,"x":0.1,"t":6.7,"dir":"Enriched"},{"r":6,"x":0.3,"t":6.4,"dir":"Enriched"},{"r":6,"x":0.55,"t":6.2,"dir":"Enriched"},{"r":6,"x":0.8,"t":6.45,"dir":"Enriched"},{"r":6,"x":1.05,"t":6.9,"dir":"Enriched"},{"r":6,"x":1.35,"t":7.14,"dir":"Enriched"},{"r":6,"x":1.6,"t":6.9,"dir":"Enriched"},{"r":6,"x":1.9,"t":6.53,"dir":"Enriched"},{"r":6,"x":2.4,"t":6.3,"dir":"Enriched"},{"r":6,"x":2.9,"t":6.03,"dir":"Enriched"},{"r":6,"x":3.3,"t":6,"dir":"Enriched"},{"r":6,"x":4.1,"t":6,"dir":"Enriched"},
{"r":5,"x":-2.7,"t":5,"dir":"Enriched"},{"r":5,"x":-1.05,"t":5.03,"dir":"Enriched"},{"r":5,"x":-0.8,"t":5.3,"dir":"Enriched"},{"r":5,"x":-0.5,"t":5.65,"dir":"Enriched"},{"r":5,"x":-0.25,"t":5.95,"dir":"Enriched"},{"r":5,"x":-0.05,"t":6.07,"dir":"Enriched"},{"r":5,"x":0.2,"t":5.8,"dir":"Enriched"},{"r":5,"x":0.55,"t":5.5,"dir":"Enriched"},{"r":5,"x":0.85,"t":5.65,"dir":"Enriched"},{"r":5,"x":1.15,"t":5.8,"dir":"Enriched"},{"r":5,"x":1.5,"t":5.6,"dir":"Enriched"},{"r":5,"x":1.8,"t":5.35,"dir":"Enriched"},{"r":5,"x":2.1,"t":5.2,"dir":"Enriched"},{"r":5,"x":2.6,"t":5.07,"dir":"Enriched"},{"r":5,"x":3,"t":5,"dir":"Enriched"},{"r":5,"x":4.1,"t":5,"dir":"Enriched"},
{"r":4,"x":-2.7,"t":4,"dir":"Enriched"},{"r":4,"x":-1.7,"t":4.14,"dir":"Enriched"},{"r":4,"x":-1.1,"t":4.03,"dir":"Enriched"},{"r":4,"x":-0.9,"t":4.05,"dir":"Enriched"},{"r":4,"x":-0.6,"t":4.45,"dir":"Enriched"},{"r":4,"x":-0.3,"t":4.85,"dir":"Enriched"},{"r":4,"x":0,"t":5.11,"dir":"Enriched"},{"r":4,"x":0.3,"t":4.85,"dir":"Enriched"},{"r":4,"x":0.55,"t":4.8,"dir":"Enriched"},{"r":4,"x":0.9,"t":4.97,"dir":"Enriched"},{"r":4,"x":1.2,"t":4.7,"dir":"Enriched"},{"r":4,"x":1.5,"t":4.35,"dir":"Enriched"},{"r":4,"x":2,"t":4.2,"dir":"Enriched"},{"r":4,"x":2.5,"t":4.05,"dir":"Enriched"},{"r":4,"x":2.8,"t":4.02,"dir":"Enriched"},{"r":4,"x":3.2,"t":4.14,"dir":"Enriched"},{"r":4,"x":3.7,"t":4.03,"dir":"Enriched"},{"r":4,"x":4.1,"t":4,"dir":"Enriched"},
{"r":3,"x":-2.7,"t":3,"dir":"Enriched"},{"r":3,"x":-1.1,"t":3.03,"dir":"Enriched"},{"r":3,"x":-0.8,"t":3.3,"dir":"Enriched"},{"r":3,"x":-0.4,"t":3.6,"dir":"Enriched"},{"r":3,"x":0,"t":3.86,"dir":"Enriched"},{"r":3,"x":0.4,"t":3.8,"dir":"Enriched"},{"r":3,"x":0.8,"t":3.74,"dir":"Enriched"},{"r":3,"x":1.2,"t":3.8,"dir":"Enriched"},{"r":3,"x":1.6,"t":3.55,"dir":"Enriched"},{"r":3,"x":2.1,"t":3.25,"dir":"Enriched"},{"r":3,"x":2.7,"t":3.08,"dir":"Enriched"},{"r":3,"x":3.1,"t":3,"dir":"Enriched"},{"r":3,"x":4.1,"t":3,"dir":"Enriched"},
{"r":2,"x":-2.7,"t":2,"dir":"Enriched"},{"r":2,"x":-1.5,"t":2.02,"dir":"Enriched"},{"r":2,"x":-1,"t":2.2,"dir":"Enriched"},{"r":2,"x":-0.5,"t":2.65,"dir":"Enriched"},{"r":2,"x":-0.2,"t":3.1,"dir":"Enriched"},{"r":2,"x":0.1,"t":3.34,"dir":"Enriched"},{"r":2,"x":0.4,"t":3.1,"dir":"Enriched"},{"r":2,"x":0.8,"t":2.6,"dir":"Enriched"},{"r":2,"x":1.2,"t":2.33,"dir":"Enriched"},{"r":2,"x":1.6,"t":2.27,"dir":"Enriched"},{"r":2,"x":2,"t":2.17,"dir":"Enriched"},{"r":2,"x":2.5,"t":2.07,"dir":"Enriched"},{"r":2,"x":3,"t":2.01,"dir":"Enriched"},{"r":2,"x":3.4,"t":2,"dir":"Enriched"},{"r":2,"x":4.1,"t":2,"dir":"Enriched"},
{"r":1,"x":-2.7,"t":1,"dir":"Depleted"},{"r":1,"x":-1.9,"t":1.02,"dir":"Depleted"},{"r":1,"x":-1.6,"t":1.25,"dir":"Depleted"},{"r":1,"x":-1.3,"t":1.6,"dir":"Depleted"},{"r":1,"x":-1,"t":1.78,"dir":"Depleted"},{"r":1,"x":-0.75,"t":1.65,"dir":"Depleted"},{"r":1,"x":-0.45,"t":1.53,"dir":"Depleted"},{"r":1,"x":-0.2,"t":1.7,"dir":"Depleted"},{"r":1,"x":0.1,"t":1.95,"dir":"Depleted"},{"r":1,"x":0.3,"t":2.02,"dir":"Depleted"},{"r":1,"x":0.6,"t":1.75,"dir":"Depleted"},{"r":1,"x":0.9,"t":1.45,"dir":"Depleted"},{"r":1,"x":1.2,"t":1.25,"dir":"Depleted"},{"r":1,"x":1.6,"t":1.13,"dir":"Depleted"},{"r":1,"x":2.1,"t":1.07,"dir":"Depleted"},{"r":1,"x":2.5,"t":1,"dir":"Depleted"},{"r":1,"x":4.1,"t":1,"dir":"Depleted"}],
"pcoa":[
{"x":0.36,"y":0.09,"group":"Dex-IONP","type":"Feces"},{"x":0.342,"y":-0.138,"group":"Dex-IONP","type":"Feces"},{"x":0.305,"y":-0.158,"group":"Dex-IONP","type":"Feces"},{"x":0.333,"y":-0.231,"group":"Dex-IONP","type":"Feces"},{"x":0.348,"y":0.015,"group":"Dex-IONP","type":"Feces"},{"x":0.36,"y":0.084,"group":"Dex-IONP","type":"Feces"},
{"x":0.271,"y":0.218,"group":"Control","type":"Feces"},{"x":0.313,"y":0.087,"group":"Control","type":"Feces"},{"x":0.317,"y":0.028,"group":"Control","type":"Feces"},{"x":0.309,"y":-0.02,"group":"Control","type":"Feces"},{"x":0.348,"y":-0.217,"group":"Control","type":"Feces"},{"x":0.302,"y":-0.31,"group":"Control","type":"Feces"},
{"x":0.305,"y":0.198,"group":"CHX","type":"Feces"},{"x":0.321,"y":0.059,"group":"CHX","type":"Feces"},{"x":0.347,"y":0.07,"group":"CHX","type":"Feces"},{"x":0.352,"y":0.015,"group":"CHX","type":"Feces"},{"x":0.271,"y":-0.106,"group":"CHX","type":"Feces"},{"x":0.344,"y":0.025,"group":"CHX","type":"Feces"},
{"x":0.234,"y":0.177,"group":"GOx","type":"Feces"},{"x":0.285,"y":0.077,"group":"GOx","type":"Feces"},{"x":0.321,"y":0.097,"group":"GOx","type":"Feces"},{"x":0.317,"y":-0.027,"group":"GOx","type":"Feces"},{"x":0.329,"y":-0.214,"group":"GOx","type":"Feces"},{"x":0.241,"y":-0.3,"group":"GOx","type":"Feces"},
{"x":0.289,"y":0.184,"group":"Dex-IONP−GOx","type":"Feces"},{"x":0.317,"y":0.184,"group":"Dex-IONP−GOx","type":"Feces"},{"x":0.321,"y":0.125,"group":"Dex-IONP−GOx","type":"Feces"},{"x":0.347,"y":0.059,"group":"Dex-IONP−GOx","type":"Feces"},{"x":0.329,"y":0.004,"group":"Dex-IONP−GOx","type":"Feces"},{"x":0.344,"y":0.015,"group":"Dex-IONP−GOx","type":"Feces"},
{"x":-0.328,"y":0.053,"group":"Dex-IONP","type":"Oral Swab"},{"x":-0.35,"y":-0.013,"group":"Dex-IONP","type":"Oral Swab"},{"x":-0.334,"y":-0.02,"group":"Dex-IONP","type":"Oral Swab"},{"x":-0.302,"y":-0.027,"group":"Dex-IONP","type":"Oral Swab"},{"x":-0.342,"y":0.008,"group":"Dex-IONP","type":"Oral Swab"},{"x":-0.358,"y":0.001,"group":"Dex-IONP","type":"Oral Swab"},
{"x":-0.293,"y":0.063,"group":"Control","type":"Oral Swab"},{"x":-0.312,"y":0.028,"group":"Control","type":"Oral Swab"},{"x":-0.275,"y":-0.008,"group":"Control","type":"Oral Swab"},{"x":-0.354,"y":-0.003,"group":"Control","type":"Oral Swab"},{"x":-0.302,"y":-0.013,"group":"Control","type":"Oral Swab"},{"x":-0.334,"y":0.001,"group":"Control","type":"Oral Swab"},
{"x":-0.251,"y":0.008,"group":"GOx","type":"Oral Swab"},{"x":-0.313,"y":0.004,"group":"GOx","type":"Oral Swab"},{"x":-0.35,"y":0.001,"group":"GOx","type":"Oral Swab"},{"x":-0.326,"y":-0.02,"group":"GOx","type":"Oral Swab"},{"x":-0.342,"y":-0.013,"group":"GOx","type":"Oral Swab"},{"x":-0.302,"y":-0.006,"group":"GOx","type":"Oral Swab"},
{"x":-0.263,"y":0.059,"group":"CHX","type":"Oral Swab"},{"x":-0.187,"y":-0.039,"group":"CHX","type":"Oral Swab"},{"x":-0.31,"y":-0.013,"group":"CHX","type":"Oral Swab"},{"x":-0.287,"y":-0.02,"group":"CHX","type":"Oral Swab"},{"x":-0.334,"y":-0.013,"group":"CHX","type":"Oral Swab"},{"x":-0.35,"y":-0.006,"group":"CHX","type":"Oral Swab"},
{"x":-0.338,"y":0.021,"group":"Dex-IONP−GOx","type":"Oral Swab"},{"x":-0.35,"y":0.001,"group":"Dex-IONP−GOx","type":"Oral Swab"},{"x":-0.342,"y":-0.013,"group":"Dex-IONP−GOx","type":"Oral Swab"},{"x":-0.302,"y":-0.013,"group":"Dex-IONP−GOx","type":"Oral Swab"},{"x":-0.354,"y":-0.006,"group":"Dex-IONP−GOx","type":"Oral Swab"},{"x":-0.334,"y":0.008,"group":"Dex-IONP−GOx","type":"Oral Swab"}],
"ellipses":[
{"e":"Feces","o":0,"x":0.3816,"y":0.0145},{"e":"Feces","o":1,"x":0.3694,"y":0.1725},{"e":"Feces","o":2,"x":0.3442,"y":0.2882},{"e":"Feces","o":3,"x":0.3126,"y":0.3305},{"e":"Feces","o":4,"x":0.2832,"y":0.2882},{"e":"Feces","o":5,"x":0.2638,"y":0.1725},{"e":"Feces","o":6,"x":0.2596,"y":0.0145},{"e":"Feces","o":7,"x":0.2718,"y":-0.1435},{"e":"Feces","o":8,"x":0.297,"y":-0.2592},{"e":"Feces","o":9,"x":0.3286,"y":-0.3015},{"e":"Feces","o":10,"x":0.358,"y":-0.2592},{"e":"Feces","o":11,"x":0.3774,"y":-0.1435},
{"e":"Oral","o":0,"x":-0.2725,"y":-0.0076},{"e":"Oral","o":1,"x":-0.2799,"y":0.0139},{"e":"Oral","o":2,"x":-0.3003,"y":0.0296},{"e":"Oral","o":3,"x":-0.328,"y":0.0354},{"e":"Oral","o":4,"x":-0.3558,"y":0.0296},{"e":"Oral","o":5,"x":-0.3761,"y":0.0139},{"e":"Oral","o":6,"x":-0.3835,"y":-0.0076},{"e":"Oral","o":7,"x":-0.3761,"y":-0.0291},{"e":"Oral","o":8,"x":-0.3558,"y":-0.0448},{"e":"Oral","o":9,"x":-0.328,"y":-0.0506},{"e":"Oral","o":10,"x":-0.3003,"y":-0.0448},{"e":"Oral","o":11,"x":-0.2799,"y":-0.0291}]
},
"vconcat":[
{"spacing":0,"bounds":"flush","hconcat":[
{"data":{"values":[]},"mark":"point","width":103.6,"height":540,"view":{"stroke":null,"fill":"transparent"}},
{"width":363.4,"height":348,
"data":{"values":[{"group":"Control","pos":1,"mean":45.8,"lo":38,"hi":53},{"group":"Dex-IONP","pos":2,"mean":43.7,"lo":39,"hi":48},{"group":"GOx","pos":3,"mean":38.8,"lo":34,"hi":43},{"group":"CHX","pos":4,"mean":33.2,"lo":27,"hi":39},{"group":"Dex-IONP-GOx","pos":5,"mean":22.5,"lo":16,"hi":29}]},
"layer":[
{"mark":{"type":"bar","orient":"vertical","width":47,"fill":"#8c8c8c","stroke":"#111","strokeWidth":1.5},"encoding":{"x":{"field":"pos","type":"quantitative","scale":{"domain":[0.353,5.69],"nice":false},"axis":{"values":[1,2,3,4,5],"labelExpr":"['','Control','Dex-IONP','GOx','CHX','Dex-IONP-GOx'][datum.value]","labelAngle":-45,"labelFontSize":28,"labelFontStyle":"italic","labelColor":"#222","labelLimit":320,"title":null,"domainColor":"#111","domainWidth":2.5,"tickColor":"#111","tickWidth":2,"tickSize":7,"labelOverlap":false,"labelPadding":6}},"y":{"field":"mean","type":"quantitative","scale":{"domain":[0,62],"range":[348,98],"nice":false},"axis":{"values":[0,10,20,30,40,50,60],"title":"Caries score","titleFontSize":27,"titleFontWeight":"normal","titleColor":"#222","labelFontSize":26,"labelColor":"#222","domainColor":"#111","domainWidth":2,"tickColor":"#111","tickWidth":2,"tickSize":5,"titlePadding":8,"labelPadding":2,"titleY":222}}}},
{"mark":{"type":"rule","color":"#111","strokeWidth":1.5},"encoding":{"x":{"field":"pos","type":"quantitative"},"y":{"field":"lo","type":"quantitative"},"y2":{"field":"hi"}}},
{"mark":{"type":"tick","orient":"horizontal","size":22,"thickness":2,"color":"#111"},"encoding":{"x":{"field":"pos","type":"quantitative"},"y":{"field":"lo","type":"quantitative"}}},
{"mark":{"type":"tick","orient":"horizontal","size":22,"thickness":2,"color":"#111"},"encoding":{"x":{"field":"pos","type":"quantitative"},"y":{"field":"hi","type":"quantitative"}}},
{"data":{"values":[{"x1":1,"x2":3.09,"y1":65.6,"y2":65.6},{"x1":2,"x2":2,"y1":65.6,"y2":69.8},{"x1":2,"x2":5.15,"y1":69.8,"y2":69.8},{"x1":5.15,"x2":5.15,"y1":69.8,"y2":65.7},{"x1":3.9,"x2":5.12,"y1":60.2,"y2":60.2},{"x1":3.9,"x2":3.9,"y1":60.2,"y2":56.5},{"x1":5.12,"x2":5.12,"y1":60.2,"y2":56.5}]},"mark":{"type":"rule","color":"#222","strokeWidth":2},"encoding":{"x":{"field":"x1","type":"quantitative"},"x2":{"field":"x2"},"y":{"field":"y1","type":"quantitative"},"y2":{"field":"y2"}}},
{"data":{"values":[{"x":3.56,"y":72.4,"s":"**"},{"x":4.52,"y":62.3,"s":"**"}]},"mark":{"type":"text","fontSize":18,"fontWeight":"bold","color":"#222"},"encoding":{"x":{"field":"x","type":"quantitative"},"y":{"field":"y","type":"quantitative"},"text":{"field":"s"}}},
{"data":{"values":[{"x":3,"y":81.3,"s":"Enamel affected"}]},"mark":{"type":"text","fontSize":27.5,"color":"#222"},"encoding":{"x":{"field":"x","type":"quantitative"},"y":{"field":"y","type":"quantitative"},"text":{"field":"s"}}},
{"data":{"values":[{"x":-0.41,"y":80.8,"s":"a"},{"x":-0.72,"y":-44.9,"s":"d"}]},"mark":{"type":"text","font":"Open Sans","fontSize":30,"fontWeight":"bold","color":"#000"},"encoding":{"x":{"field":"x","type":"quantitative"},"y":{"field":"y","type":"quantitative"},"text":{"field":"s"}}}]},
{"data":{"values":[]},"mark":"point","width":93,"height":1},
{"width":370,"height":345.7,
"data":{"values":[{"group":"Control","pos":1,"mean":19.3,"lo":13.3,"hi":25.3},{"group":"Dex-IONP","pos":2,"mean":17.9,"lo":13.4,"hi":22.3},{"group":"GOx","pos":3,"mean":17.4,"lo":12,"hi":22.7},{"group":"CHX","pos":4,"mean":10,"lo":4.6,"hi":15.3},{"group":"Dex-IONP-GOx","pos":5,"mean":4.4,"lo":1,"hi":7.8}]},
"layer":[
{"mark":{"type":"bar","orient":"vertical","width":47,"fill":"#8c8c8c","stroke":"#111","strokeWidth":1.5},"encoding":{"x":{"field":"pos","type":"quantitative","scale":{"domain":[0.359,5.69],"nice":false},"axis":{"values":[1,2,3,4,5],"labelExpr":"['','Control','Dex-IONP','GOx','CHX','Dex-IONP-GOx'][datum.value]","labelAngle":-45,"labelFontSize":28,"labelFontStyle":"italic","labelColor":"#222","labelLimit":320,"title":null,"domainColor":"#111","domainWidth":2.5,"tickColor":"#111","tickWidth":2,"tickSize":7,"labelOverlap":false,"labelPadding":6}},"y":{"field":"mean","type":"quantitative","scale":{"domain":[0,30.08],"range":[345.7,98],"nice":false},"axis":{"values":[0,10,20,30],"title":"Caries score","titleFontSize":27,"titleFontWeight":"normal","titleColor":"#222","labelFontSize":26,"labelColor":"#222","domainColor":"#111","domainWidth":2,"tickColor":"#111","tickWidth":2,"tickSize":5,"titlePadding":8,"labelPadding":2,"titleY":222}}}},
{"mark":{"type":"rule","color":"#111","strokeWidth":1.5},"encoding":{"x":{"field":"pos","type":"quantitative"},"y":{"field":"lo","type":"quantitative"},"y2":{"field":"hi"}}},
{"mark":{"type":"tick","orient":"horizontal","size":22,"thickness":2,"color":"#111"},"encoding":{"x":{"field":"pos","type":"quantitative"},"y":{"field":"lo","type":"quantitative"}}},
{"mark":{"type":"tick","orient":"horizontal","size":22,"thickness":2,"color":"#111"},"encoding":{"x":{"field":"pos","type":"quantitative"},"y":{"field":"hi","type":"quantitative"}}},
{"data":{"values":[{"x1":1.06,"x2":3.07,"y1":31.9,"y2":31.9},{"x1":2.05,"x2":2.05,"y1":31.9,"y2":33.9},{"x1":2.05,"x2":5.14,"y1":33.9,"y2":33.9},{"x1":5.14,"x2":5.14,"y1":33.9,"y2":31.9},{"x1":3.93,"x2":5.13,"y1":29.2,"y2":29.2},{"x1":3.93,"x2":3.93,"y1":29.2,"y2":27.4},{"x1":5.13,"x2":5.13,"y1":29.2,"y2":27.4}]},"mark":{"type":"rule","color":"#222","strokeWidth":2},"encoding":{"x":{"field":"x1","type":"quantitative"},"x2":{"field":"x2"},"y":{"field":"y1","type":"quantitative"},"y2":{"field":"y2"}}},
{"data":{"values":[{"x":3.59,"y":35,"s":"**"},{"x":4.55,"y":30.2,"s":"*"}]},"mark":{"type":"text","fontSize":18,"fontWeight":"bold","color":"#222"},"encoding":{"x":{"field":"x","type":"quantitative"},"y":{"field":"y","type":"quantitative"},"text":{"field":"s"}}},
{"data":{"values":[{"x":3.02,"y":39.56,"s":"Dentin affected"}]},"mark":{"type":"text","fontSize":27.5,"color":"#222"},"encoding":{"x":{"field":"x","type":"quantitative"},"y":{"field":"y","type":"quantitative"},"text":{"field":"s"}}},
{"data":{"values":[{"x":-0.29,"y":39.3,"s":"b"}]},"mark":{"type":"text","font":"Open Sans","fontSize":30,"fontWeight":"bold","color":"#000"},"encoding":{"x":{"field":"x","type":"quantitative"},"y":{"field":"y","type":"quantitative"},"text":{"field":"s"}}}]},
{"data":{"values":[]},"mark":"point","width":88,"height":1},
{"width":369,"height":345.7,
"data":{"values":[{"group":"Control","pos":1,"mean":15.9,"lo":9.8,"hi":22},{"group":"Dex-IONP","pos":2,"mean":14.3,"lo":9.4,"hi":19.3},{"group":"GOx","pos":3,"mean":14,"lo":10.2,"hi":17.9},{"group":"CHX","pos":4,"mean":5.7,"lo":2.1,"hi":9.3},{"group":"Dex-IONP-GOx","pos":5,"mean":1,"lo":0,"hi":2.2}]},
"layer":[
{"mark":{"type":"bar","orient":"vertical","width":47,"fill":"#8c8c8c","stroke":"#111","strokeWidth":1.5},"encoding":{"x":{"field":"pos","type":"quantitative","scale":{"domain":[0.35,5.68],"nice":false},"axis":{"values":[1,2,3,4,5],"labelExpr":"['','Control','Dex-IONP','GOx','CHX','Dex-IONP-GOx'][datum.value]","labelAngle":-45,"labelFontSize":28,"labelFontStyle":"italic","labelColor":"#222","labelLimit":320,"title":null,"domainColor":"#111","domainWidth":2.5,"tickColor":"#111","tickWidth":2,"tickSize":7,"labelOverlap":false,"labelPadding":6}},"y":{"field":"mean","type":"quantitative","scale":{"domain":[0,30.08],"range":[345.7,98],"nice":false},"axis":{"values":[0,10,20,30],"title":"Caries score","titleFontSize":27,"titleFontWeight":"normal","titleColor":"#222","labelFontSize":26,"labelColor":"#222","domainColor":"#111","domainWidth":2,"tickColor":"#111","tickWidth":2,"tickSize":5,"titlePadding":8,"labelPadding":2,"titleY":222}}}},
{"mark":{"type":"rule","color":"#111","strokeWidth":1.5},"encoding":{"x":{"field":"pos","type":"quantitative"},"y":{"field":"lo","type":"quantitative"},"y2":{"field":"hi"}}},
{"mark":{"type":"tick","orient":"horizontal","size":22,"thickness":2,"color":"#111"},"encoding":{"x":{"field":"pos","type":"quantitative"},"y":{"field":"lo","type":"quantitative"}}},
{"mark":{"type":"tick","orient":"horizontal","size":22,"thickness":2,"color":"#111"},"encoding":{"x":{"field":"pos","type":"quantitative"},"y":{"field":"hi","type":"quantitative"}}},
{"data":{"values":[{"x1":0.94,"x2":3,"y1":31.9,"y2":31.9},{"x1":1.94,"x2":1.94,"y1":31.9,"y2":33.9},{"x1":1.94,"x2":5.02,"y1":33.9,"y2":33.9},{"x1":5.02,"x2":5.02,"y1":33.9,"y2":31.9},{"x1":3.79,"x2":4.99,"y1":29.2,"y2":29.2},{"x1":3.79,"x2":3.79,"y1":29.2,"y2":27.4},{"x1":4.99,"x2":4.99,"y1":29.2,"y2":27.4}]},"mark":{"type":"rule","color":"#222","strokeWidth":2},"encoding":{"x":{"field":"x1","type":"quantitative"},"x2":{"field":"x2"},"y":{"field":"y1","type":"quantitative"},"y2":{"field":"y2"}}},
{"data":{"values":[{"x":3.47,"y":35,"s":"**"},{"x":4.38,"y":30.2,"s":"**"}]},"mark":{"type":"text","fontSize":18,"fontWeight":"bold","color":"#222"},"encoding":{"x":{"field":"x","type":"quantitative"},"y":{"field":"y","type":"quantitative"},"text":{"field":"s"}}},
{"data":{"values":[{"x":3.01,"y":39.56,"s":"Full cavitation"}]},"mark":{"type":"text","fontSize":27.5,"color":"#222"},"encoding":{"x":{"field":"x","type":"quantitative"},"y":{"field":"y","type":"quantitative"},"text":{"field":"s"}}},
{"data":{"values":[{"x":-0.34,"y":39.3,"s":"c"}]},"mark":{"type":"text","font":"Open Sans","fontSize":30,"fontWeight":"bold","color":"#000"},"encoding":{"x":{"field":"x","type":"quantitative"},"y":{"field":"y","type":"quantitative"},"text":{"field":"s"}}}]}
]},

{"spacing":0,"bounds":"flush","resolve":{"scale":{"color":"independent"}},"hconcat":[
{"data":{"values":[]},"mark":"point","width":67,"height":413,"view":{"stroke":null,"fill":"transparent"}},
{"width":852,"height":378,"resolve":{"scale":{"color":"independent"}},"layer":[
{"data":{"values":[{"a":0,"b":6,"y1":-2,"y2":-1.2,"group":"Control"},{"a":6,"b":12,"y1":-2,"y2":-1.2,"group":"Dex-IONP"},{"a":12,"b":18,"y1":-2,"y2":-1.2,"group":"GOx"},{"a":18,"b":24,"y1":-2,"y2":-1.2,"group":"CHX"},{"a":24,"b":30,"y1":-2,"y2":-1.2,"group":"Dex-IONP−GOx"},{"a":30,"b":36,"y1":-2,"y2":-1.2,"group":"Control"},{"a":36,"b":42,"y1":-2,"y2":-1.2,"group":"Dex-IONP"},{"a":42,"b":48,"y1":-2,"y2":-1.2,"group":"GOx"},{"a":48,"b":54,"y1":-2,"y2":-1.2,"group":"CHX"},{"a":54,"b":60,"y1":-2,"y2":-1.2,"group":"Dex-IONP−GOx"}]},"mark":"rect","encoding":{"x":{"field":"a","type":"quantitative","scale":{"domain":[0,60],"nice":false},"axis":null},"x2":{"field":"b"},"y":{"field":"y1","type":"quantitative","scale":{"domain":[20,-2],"range":[378,2.5],"nice":false},"axis":null},"y2":{"field":"y2"},"color":{"field":"group","type":"nominal","scale":{"domain":["Control","Dex-IONP","GOx","CHX","Dex-IONP−GOx"],"range":["#0030d0","#d0c800","#d00000","#a020a0","#008800"]},"legend":{"title":"Groups","orient":"none","legendX":1172,"legendY":1,"symbolType":"square","symbolSize":420,"symbolStrokeWidth":0,"rowPadding":0,"titleFontSize":13,"titleFontWeight":"bold","titleColor":"#222","labelFontSize":14,"labelColor":"#333","labelOffset":3,"titlePadding":4}}}},
{"data":{"values":[{"a":0,"b":30,"y1":-0.97,"y2":-0.21,"type":"Oral Swab"},{"a":30,"b":60,"y1":-0.97,"y2":-0.21,"type":"Feces"}]},"mark":"rect","encoding":{"x":{"field":"a","type":"quantitative"},"x2":{"field":"b"},"y":{"field":"y1","type":"quantitative"},"y2":{"field":"y2"},"color":{"field":"type","type":"nominal","scale":{"domain":["Oral Swab","Feces"],"range":["#ff99ee","#00ddbb"]},"legend":{"title":"SampleType","orient":"none","legendX":1172,"legendY":135,"symbolType":"square","symbolSize":420,"symbolStrokeWidth":0,"rowPadding":0,"titleFontSize":13,"titleFontWeight":"bold","titleColor":"#222","labelFontSize":14,"labelColor":"#333","labelOffset":3,"titlePadding":4}}}},
{"data":{"name":"heat"},"mark":"rect","encoding":{"x":{"field":"c","type":"quantitative","bin":{"step":1,"extent":[0,60]}},"y":{"field":"r","type":"quantitative","bin":{"step":1,"extent":[0,20]}},"color":{"field":"v","type":"quantitative","scale":{"domain":[0,0.08,0.19,0.29,0.37,1],"range":["#0088ff","#00ffff","#00ff00","#ffff00","#ff0000","#ff0000"]},"legend":{"type":"gradient","title":null,"orient":"none","legendX":1129,"legendY":0,"gradientLength":214,"gradientThickness":14,"values":[0,0.2,0.4,0.6,0.8,1],"format":"~g","labelFontSize":12,"labelColor":"#444","labelOverlap":false}}}},
{"data":{"values":[{"x":60,"y":0.5,"s":"Actinobacteria Corynebacterium"},{"x":60,"y":1.5,"s":"Actinobacteria Rothia"},{"x":60,"y":2.5,"s":"Bacteroidetes Bacteroides"},{"x":60,"y":3.5,"s":"Bacteroidetes Parabacteroides"},{"x":60,"y":4.5,"s":"Bacteroidetes Prevotella"},{"x":60,"y":5.5,"s":"Bacteroidetes S24−7"},{"x":60,"y":6.5,"s":"Firmicutes Allobaculum"},{"x":60,"y":7.5,"s":"Firmicutes Granulicatella"},{"x":60,"y":8.5,"s":"Firmicutes Lachnospiraceae"},{"x":60,"y":9.5,"s":"Firmicutes Lactobacillus"},{"x":60,"y":10.5,"s":"Firmicutes Oscillospira"},{"x":60,"y":11.5,"s":"Firmicutes Ruminococcaceae"},{"x":60,"y":12.5,"s":"Firmicutes Ruminococcus"},{"x":60,"y":13.5,"s":"Firmicutes Streptococcaceae"},{"x":60,"y":14.5,"s":"Firmicutes Streptococcus"},{"x":60,"y":15.5,"s":"Firmicutes Veillonella"},{"x":60,"y":16.5,"s":"Proteobacteria Actinobacillus"},{"x":60,"y":17.5,"s":"Proteobacteria Aggregatibacter"},{"x":60,"y":18.5,"s":"Proteobacteria Pasteurellaceae"},{"x":60,"y":19.5,"s":"Proteobacteria Sutterella"}]},"mark":{"type":"text","align":"left","dx":5,"fontSize":18.2,"color":"#222"},"encoding":{"x":{"field":"x","type":"quantitative"},"y":{"field":"y","type":"quantitative"},"text":{"field":"s"}}},
{"data":{"values":[{"x":60,"y":-1.56,"s":"Groups"},{"x":60,"y":-0.58,"s":"SampleType"}]},"mark":{"type":"text","align":"left","dx":5,"fontSize":13.5,"fontWeight":"bold","color":"#222"},"encoding":{"x":{"field":"x","type":"quantitative"},"y":{"field":"y","type":"quantitative"},"text":{"field":"s"}}}]}
]},

{"spacing":0,"bounds":"flush","resolve":{"scale":{"color":"independent","fill":"independent","shape":"independent"}},"hconcat":[
{"data":{"values":[]},"mark":"point","width":67,"height":457,"view":{"stroke":null,"fill":"transparent"}},
{"width":296,"height":374,"resolve":{"scale":{"y":"independent"}},"layer":[
{"layer":[
{"data":{"values":[{"x":0.405,"x2":5.6,"y":0,"y2":0.088}]},"mark":{"type":"rect","fill":"#e0e0e0","stroke":"#aaa","strokeWidth":1.5},"encoding":{"x":{"field":"x","type":"quantitative","scale":{"domain":[0.405,5.6],"range":[0,296],"nice":false},"axis":{"values":[1,2,3,4,5],"labelExpr":"['',['Control'],['Dex-','IONP'],['GOx'],['CHX'],['Dex-','IONP−GOx']][datum.value]","grid":true,"gridColor":"#f0f0f0","domain":false,"tickColor":"#777","labelColor":"#777","labelFontSize":16,"title":null,"labelOverlap":false}},"x2":{"field":"x2"},"y":{"field":"y","type":"quantitative","scale":{"domain":[0,1],"range":[34,374],"nice":false},"axis":null},"y2":{"field":"y2"}}},
{"data":{"values":[{"x":0.405,"x2":5.6,"y":0.088,"y2":0.529},{"x":0.405,"x2":5.6,"y":0.559,"y2":1}]},"mark":{"type":"rect","filled":false,"stroke":"#aaa","strokeWidth":1.5},"encoding":{"x":{"field":"x","type":"quantitative"},"x2":{"field":"x2"},"y":{"field":"y","type":"quantitative"},"y2":{"field":"y2"}}},
{"data":{"values":[{"x":3,"y":0.044,"s":"Oral Swab"}]},"mark":{"type":"text","fontSize":15.5,"color":"#444"},"encoding":{"x":{"field":"x","type":"quantitative"},"y":{"field":"y","type":"quantitative"},"text":{"field":"s"}}},
{"data":{"values":[{"x":5.79,"y":1.153,"s":"Groups"}]},"mark":{"type":"text","fontSize":20,"color":"#222"},"encoding":{"x":{"field":"x","type":"quantitative"},"y":{"field":"y","type":"quantitative"},"text":{"field":"s"}}},
{"data":{"values":[{"x":-0.33,"y":-0.05,"s":"e"}]},"mark":{"type":"text","font":"Open Sans","fontSize":30,"fontWeight":"bold","color":"#000"},"encoding":{"x":{"field":"x","type":"quantitative"},"y":{"field":"y","type":"quantitative"},"text":{"field":"s"}}}]},
{"layer":[
{"data":{"values":[{"y":25},{"y":37.5},{"y":50},{"y":62.5},{"y":75},{"y":87.5},{"y":100},{"y":112.5},{"y":125}]},"mark":{"type":"rule","color":"#f0f0f0"},"encoding":{"x":{"datum":0.405,"type":"quantitative"},"x2":{"datum":5.6},"y":{"field":"y","type":"quantitative","scale":{"domain":[15.25,127.75],"range":[214,64],"nice":false},"axis":{"orient":"left","values":[25,50,75,100,125],"domain":false,"tickColor":"#777","labelColor":"#777","labelFontSize":15.5,"title":null}}}},
{"data":{"name":"boxOR"},"mark":{"type":"rule","color":"#333","strokeWidth":1.5},"encoding":{"x":{"field":"g","type":"quantitative"},"y":{"field":"lo","type":"quantitative"},"y2":{"field":"hi"}}},
{"data":{"name":"boxOR"},"mark":{"type":"bar","orient":"vertical","width":44,"fill":"white","stroke":"#444","strokeWidth":1.5},"encoding":{"x":{"field":"g","type":"quantitative"},"y":{"field":"q1","type":"quantitative"},"y2":{"field":"q3"}}},
{"data":{"name":"boxOR"},"mark":{"type":"tick","orient":"horizontal","size":44,"thickness":2.5,"color":"#222"},"encoding":{"x":{"field":"g","type":"quantitative"},"y":{"field":"med","type":"quantitative"}}},
{"data":{"name":"ptsOR"},"mark":{"type":"point","filled":true,"size":22,"opacity":0.85},"encoding":{"x":{"field":"g","type":"quantitative"},"y":{"field":"v","type":"quantitative"},"color":{"field":"g","type":"nominal","scale":{"domain":[1,2,3,4,5],"range":["#2050e0","#e0c800","#e83030","#b840c8","#00a040"]},"legend":null}}}]},
{"layer":[
{"data":{"values":[{"y":1.5},{"y":1.75},{"y":2},{"y":2.25},{"y":2.5},{"y":2.75},{"y":3},{"y":3.25},{"y":3.5},{"y":3.75},{"y":4}]},"mark":{"type":"rule","color":"#f0f0f0"},"encoding":{"x":{"datum":0.405,"type":"quantitative"},"x2":{"datum":5.6},"y":{"field":"y","type":"quantitative","scale":{"domain":[1.33,4.01],"range":[374,224],"nice":false},"axis":{"orient":"left","values":[1.5,2,2.5,3,3.5,4],"format":".1f","domain":false,"tickColor":"#777","labelColor":"#777","labelFontSize":15.5,"title":null}}}},
{"data":{"name":"boxOS"},"mark":{"type":"rule","color":"#333","strokeWidth":1.5},"encoding":{"x":{"field":"g","type":"quantitative"},"y":{"field":"lo","type":"quantitative"},"y2":{"field":"hi"}}},
{"data":{"name":"boxOS"},"mark":{"type":"bar","orient":"vertical","width":44,"fill":"white","stroke":"#444","strokeWidth":1.5},"encoding":{"x":{"field":"g","type":"quantitative"},"y":{"field":"q1","type":"quantitative"},"y2":{"field":"q3"}}},
{"data":{"name":"boxOS"},"mark":{"type":"tick","orient":"horizontal","size":44,"thickness":2.5,"color":"#222"},"encoding":{"x":{"field":"g","type":"quantitative"},"y":{"field":"med","type":"quantitative"}}},
{"data":{"name":"ptsOS"},"mark":{"type":"point","filled":true,"size":22,"opacity":0.85},"encoding":{"x":{"field":"g","type":"quantitative"},"y":{"field":"v","type":"quantitative"},"color":{"field":"g","type":"nominal","scale":{"domain":[1,2,3,4,5],"range":["#2050e0","#e0c800","#e83030","#b840c8","#00a040"]},"legend":null}}}]}]},
{"data":{"values":[]},"mark":"point","width":9,"height":1},
{"width":324,"height":374,"resolve":{"scale":{"y":"independent"}},"layer":[
{"layer":[
{"data":{"values":[{"x":0.407,"x2":5.6,"y":0,"y2":0.088},{"x":5.6,"x2":6.09,"y":0.088,"y2":0.529},{"x":5.6,"x2":6.09,"y":0.559,"y2":1}]},"mark":{"type":"rect","fill":"#e0e0e0","stroke":"#aaa","strokeWidth":1.5},"encoding":{"x":{"field":"x","type":"quantitative","scale":{"domain":[0.407,5.6],"range":[0,296],"nice":false},"axis":{"values":[1,2,3,4,5],"labelExpr":"['',['Control'],['Dex-','IONP'],['GOx'],['CHX'],['Dex-','IONP−GOx']][datum.value]","grid":true,"gridColor":"#f0f0f0","domain":false,"tickColor":"#777","labelColor":"#777","labelFontSize":16,"title":null,"labelOverlap":false}},"x2":{"field":"x2"},"y":{"field":"y","type":"quantitative","scale":{"domain":[0,1],"range":[34,374],"nice":false},"axis":null},"y2":{"field":"y2"}}},
{"data":{"values":[{"x":0.407,"x2":5.6,"y":0.088,"y2":0.529},{"x":0.407,"x2":5.6,"y":0.559,"y2":1}]},"mark":{"type":"rect","filled":false,"stroke":"#aaa","strokeWidth":1.5},"encoding":{"x":{"field":"x","type":"quantitative"},"x2":{"field":"x2"},"y":{"field":"y","type":"quantitative"},"y2":{"field":"y2"}}},
{"data":{"values":[{"x":3,"y":0.044,"s":"Feces"}]},"mark":{"type":"text","fontSize":15.5,"color":"#444"},"encoding":{"x":{"field":"x","type":"quantitative"},"y":{"field":"y","type":"quantitative"},"text":{"field":"s"}}},
{"data":{"values":[{"x":5.85,"y":0.31,"s":"Richness"},{"x":5.85,"y":0.78,"s":"Shannon"}]},"mark":{"type":"text","fontSize":15.5,"color":"#444","angle":90},"encoding":{"x":{"field":"x","type":"quantitative"},"y":{"field":"y","type":"quantitative"},"text":{"field":"s"}}}]},
{"layer":[
{"data":{"values":[{"y":25},{"y":37.5},{"y":50},{"y":62.5},{"y":75},{"y":87.5},{"y":100},{"y":112.5},{"y":125}]},"mark":{"type":"rule","color":"#f0f0f0"},"encoding":{"x":{"datum":0.407,"type":"quantitative"},"x2":{"datum":5.6},"y":{"field":"y","type":"quantitative","scale":{"domain":[15.25,127.75],"range":[214,64],"nice":false},"axis":null}}},
{"data":{"name":"boxFR"},"mark":{"type":"rule","color":"#333","strokeWidth":1.5},"encoding":{"x":{"field":"g","type":"quantitative"},"y":{"field":"lo","type":"quantitative"},"y2":{"field":"hi"}}},
{"data":{"name":"boxFR"},"mark":{"type":"bar","orient":"vertical","width":44,"fill":"white","stroke":"#444","strokeWidth":1.5},"encoding":{"x":{"field":"g","type":"quantitative"},"y":{"field":"q1","type":"quantitative"},"y2":{"field":"q3"}}},
{"data":{"name":"boxFR"},"mark":{"type":"tick","orient":"horizontal","size":44,"thickness":2.5,"color":"#222"},"encoding":{"x":{"field":"g","type":"quantitative"},"y":{"field":"med","type":"quantitative"}}},
{"data":{"name":"ptsFR"},"mark":{"type":"point","filled":true,"size":22,"opacity":0.85},"encoding":{"x":{"field":"g","type":"quantitative"},"y":{"field":"v","type":"quantitative"},"color":{"field":"g","type":"nominal","scale":{"domain":[1,2,3,4,5],"range":["#2050e0","#e0c800","#e83030","#b840c8","#00a040"]},"legend":null}}}]},
{"layer":[
{"data":{"values":[{"y":1.5},{"y":1.75},{"y":2},{"y":2.25},{"y":2.5},{"y":2.75},{"y":3},{"y":3.25},{"y":3.5},{"y":3.75},{"y":4}]},"mark":{"type":"rule","color":"#f0f0f0"},"encoding":{"x":{"datum":0.407,"type":"quantitative"},"x2":{"datum":5.6},"y":{"field":"y","type":"quantitative","scale":{"domain":[1.33,4.01],"range":[374,224],"nice":false},"axis":null}}},
{"data":{"name":"boxFS"},"mark":{"type":"rule","color":"#333","strokeWidth":1.5},"encoding":{"x":{"field":"g","type":"quantitative"},"y":{"field":"lo","type":"quantitative"},"y2":{"field":"hi"}}},
{"data":{"name":"boxFS"},"mark":{"type":"bar","orient":"vertical","width":44,"fill":"white","stroke":"#444","strokeWidth":1.5},"encoding":{"x":{"field":"g","type":"quantitative"},"y":{"field":"q1","type":"quantitative"},"y2":{"field":"q3"}}},
{"data":{"name":"boxFS"},"mark":{"type":"tick","orient":"horizontal","size":44,"thickness":2.5,"color":"#222"},"encoding":{"x":{"field":"g","type":"quantitative"},"y":{"field":"med","type":"quantitative"}}},
{"data":{"name":"ptsFS"},"mark":{"type":"point","filled":true,"size":22,"opacity":0.85},"encoding":{"x":{"field":"g","type":"quantitative"},"y":{"field":"v","type":"quantitative"},"color":{"field":"g","type":"nominal","scale":{"domain":[1,2,3,4,5],"range":["#2050e0","#e0c800","#e83030","#b840c8","#00a040"]},"legend":null}}}]}]},
{"data":{"values":[]},"mark":"point","width":72,"height":1},
{"width":481,"height":374,"layer":[
{"data":{"values":[{"x":-0.4,"a":-0.3416,"b":0.3623},{"x":-0.3,"a":-0.3416,"b":0.3623},{"x":-0.2,"a":-0.3416,"b":0.3623},{"x":-0.1,"a":-0.3416,"b":0.3623},{"x":0,"a":-0.3416,"b":0.3623},{"x":0.1,"a":-0.3416,"b":0.3623},{"x":0.2,"a":-0.3416,"b":0.3623},{"x":0.3,"a":-0.3416,"b":0.3623},{"x":0.4,"a":-0.3416,"b":0.3623}]},"mark":{"type":"rule","color":"#eeeeee"},"encoding":{"x":{"field":"x","type":"quantitative","scale":{"domain":[-0.421,0.4216],"nice":false},"axis":{"values":[-0.4,-0.2,0,0.2,0.4],"format":".1f","title":"PC1 (80%)","domain":false,"tickColor":"#888","labelColor":"#777","labelFontSize":15,"titleFontSize":20,"titleFontWeight":"normal","titleColor":"#333","titlePadding":6}},"y":{"field":"a","type":"quantitative","scale":{"domain":[-0.3416,0.3623],"range":[374,34],"nice":false},"axis":{"values":[-0.2,0,0.2],"format":".1f","title":"PC2 (9%)","grid":true,"gridColor":"#eeeeee","domain":false,"tickColor":"#888","labelColor":"#777","labelFontSize":15,"titleFontSize":20,"titleFontWeight":"normal","titleColor":"#333","titlePadding":0,"titleY":204}},"y2":{"field":"b"}}},
{"data":{"values":[{"a":-0.421,"b":0.4216,"c":-0.3416,"d":0.3623}]},"mark":{"type":"rect","filled":false,"stroke":"#b5b5b5","strokeWidth":2},"encoding":{"x":{"field":"a","type":"quantitative"},"x2":{"field":"b"},"y":{"field":"c","type":"quantitative"},"y2":{"field":"d"}}},
{"data":{"name":"ellipses"},"mark":{"type":"line","interpolate":"cardinal-closed","color":"#333","strokeWidth":1.5},"encoding":{"x":{"field":"x","type":"quantitative"},"y":{"field":"y","type":"quantitative"},"detail":{"field":"e"},"order":{"field":"o"}}},
{"data":{"name":"pcoa"},"mark":{"type":"point","filled":true,"size":300,"stroke":"#333","strokeWidth":1,"opacity":1},"encoding":{"x":{"field":"x","type":"quantitative"},"y":{"field":"y","type":"quantitative"},"fill":{"field":"group","type":"nominal","scale":{"domain":["Control","Dex-IONP","GOx","CHX","Dex-IONP−GOx"],"range":["#1550e8","#e8d820","#e83a3a","#b84cc8","#0aa03c"]},"legend":{"title":"Groups","orient":"none","legendX":491,"legendY":75,"symbolType":"circle","symbolSize":300,"symbolStrokeColor":"#333","rowPadding":0,"titleFontSize":20,"titleFontWeight":"normal","titleColor":"#333","labelFontSize":15,"labelColor":"#444","labelOffset":16,"titlePadding":12}},"shape":{"field":"type","type":"nominal","scale":{"domain":["Oral Swab","Feces"],"range":["circle","triangle-up"]},"legend":{"title":"SampleType","orient":"none","legendX":491,"legendY":261,"symbolSize":300,"symbolFillColor":"white","symbolStrokeColor":"#444","rowPadding":0,"titleFontSize":20,"titleFontWeight":"normal","titleColor":"#333","labelFontSize":15,"labelColor":"#444","labelOffset":16,"titlePadding":12}}}},
{"data":{"values":[{"x":-0.3167,"y":0.0608,"s":"Streptococcus"},{"x":-0.161,"y":0.0159,"s":"Corynebacterium"},{"x":-0.308,"y":-0.0283,"s":"Pasteurellaceae"},{"x":-0.0817,"y":-0.0283,"s":"Aggregatibacter"},{"x":-0.2548,"y":-0.0719,"s":"Rothia"},{"x":0.092,"y":0.0442,"s":"Lactobacillus"},{"x":0.3262,"y":0.094,"s":"Sutterella"},{"x":0.277,"y":0.0249,"s":"Allobaculum"},{"x":0.3667,"y":-0.0187,"s":"S24−7"},{"x":0.335,"y":-0.0643,"s":"Bacteroides"}]},"mark":{"type":"text","fontSize":15.5,"fontWeight":"bold","fontStyle":"italic","color":"#222"},"encoding":{"x":{"field":"x","type":"quantitative"},"y":{"field":"y","type":"quantitative"},"text":{"field":"s"}}},
{"data":{"values":[{"x":-0.496,"y":0.3975,"s":"f"}]},"mark":{"type":"text","font":"Open Sans","fontSize":30,"fontWeight":"bold","color":"#000"},"encoding":{"x":{"field":"x","type":"quantitative"},"y":{"field":"y","type":"quantitative"},"text":{"field":"s"}}}]}
]},

{"spacing":0,"bounds":"flush","resolve":{"scale":{"color":"independent","fill":"independent"}},"hconcat":[
{"data":{"values":[]},"mark":"point","width":461,"height":520,"view":{"stroke":null,"fill":"transparent"}},
{"width":305,"height":421.7,"layer":[
{"data":{"name":"ridges"},"mark":{"type":"area","orient":"vertical","interpolate":"monotone","opacity":1,"line":{"color":"#222","strokeWidth":1.6}},"encoding":{"x":{"field":"x","type":"quantitative","scale":{"domain":[-3.06,4.47],"nice":false},"axis":{"values":[-2,0,2,4],"labelExpr":"datum.value<0?'−'+abs(datum.value):''+datum.value","title":["Difference in logit−transformed","KEGG orthologs abundance"],"titleFontSize":21,"titleFontWeight":"normal","titleColor":"#333","titleLineHeight":25,"labelColor":"#555","labelFontSize":16,"domainColor":"#222","domainWidth":3,"tickColor":"#444","titlePadding":8}},"y":{"field":"t","type":"quantitative","stack":null,"scale":{"domain":[0.369,10.45],"range":[421.7,75],"nice":false},"axis":{"values":[1,2,3,4,5,6,7,8,9],"labelExpr":"['','Galactose metabolism','ABC transporters','beta−Lactam resistance','Arginine biosynthesis','2−Oxocarboxylic acid metabolism','Valine, leucine and isoleucine biosynthesis','C5−Branched dibasic acid metabolism','Ubiquinone and other terpenoid−quinone biosynthesis','Phenazine biosynthesis'][datum.value]","labelFontSize":17.4,"labelColor":"#444","labelLimit":500,"labelOverlap":false,"labelPadding":5,"title":"KEGG pathway","titleFontSize":21,"titleFontWeight":"normal","titleColor":"#333","titleX":-437,"titleY":248,"domainColor":"#222","domainWidth":3,"tickColor":"#444","tickSize":4}},"y2":{"field":"r"},"detail":{"field":"r"},"fill":{"field":"dir","type":"nominal","scale":{"domain":["Depleted","Enriched"],"range":["#f8766d","#00c5cd"]},"legend":{"title":null,"orient":"none","direction":"horizontal","legendX":-267,"legendY":21,"columns":2,"symbolType":"square","symbolSize":1000,"symbolStrokeColor":"#222","symbolStrokeWidth":1.5,"symbolOpacity":1,"labelExpr":"datum.label+' in Dex-IONP−GOx'","labelFontSize":17.2,"labelColor":"#444","labelOffset":11,"columnPadding":30,"labelLimit":400}}}},
{"data":{"values":[{"x":0,"a":0.37,"b":10.3}]},"mark":{"type":"rule","strokeDash":[6,5],"strokeWidth":1.8,"color":"#222"},"encoding":{"x":{"field":"x","type":"quantitative"},"y":{"field":"a","type":"quantitative"},"y2":{"field":"b"}}},
{"data":{"values":[{"x":-13.78,"y":11.55,"s":"g"}]},"mark":{"type":"text","font":"Open Sans","fontSize":30,"fontWeight":"bold","color":"#000"},"encoding":{"x":{"field":"x","type":"quantitative"},"y":{"field":"y","type":"quantitative"},"text":{"field":"s"}}},
{"data":{"values":[{"w":1,"x":-11.41,"t":-2.372,"b":-2.372},{"w":1,"x":-11.17,"t":-2.052,"b":-2.372},{"w":1,"x":-8.26,"t":-2.285,"b":-2.372},{"w":1,"x":-8.02,"t":-2.372,"b":-2.372},{"w":2,"x":-8.26,"t":-1.974,"b":-1.974},{"w":2,"x":-7.83,"t":-1.974,"b":-2.372},{"w":2,"x":-7.41,"t":-1.974,"b":-2.372},{"w":2,"x":-7.05,"t":-2.247,"b":-2.372}]},"mark":{"type":"area","color":"#e4e4e4","opacity":1,"orient":"vertical"},"encoding":{"x":{"field":"x","type":"quantitative"},"y":{"field":"t","type":"quantitative","stack":null},"y2":{"field":"b"},"detail":{"field":"w"}}}]},
{"data":{"values":[]},"mark":"point","width":383,"height":1},
{"width":227.6,"height":383,"data":{"values":[{"path":"Galactose metabolism","r":1,"v":-0.43},{"path":"Fructose and mannose metabolism","r":2,"v":-0.33},{"path":"Starch and sucrose metabolism","r":3,"v":-0.26},{"path":"Amino sugar and nucleotide sugar metabolism","r":4,"v":-0.21}]},"layer":[
{"data":{"values":[{"a":-0.4505,"b":0.0233,"c":0.407,"d":4.593}]},"mark":{"type":"rect","filled":false,"stroke":"#777","strokeWidth":2.5},"encoding":{"x":{"field":"a","type":"quantitative","scale":{"domain":[-0.4505,0.0233],"nice":false},"axis":{"values":[-0.4,-0.3,-0.2,-0.1,0],"format":".1f","title":["Difference in logit−transformed","KEGG orthologs abundance"],"titleFontSize":19.7,"titleFontWeight":"normal","titleColor":"#333","titleLineHeight":24,"titleX":110,"labelColor":"#555","labelFontSize":15,"domain":false,"tickColor":"#222","tickWidth":2,"tickSize":11,"titlePadding":18}},"x2":{"field":"b"},"y":{"field":"c","type":"quantitative","scale":{"domain":[0.407,4.593],"range":[383,134],"nice":false},"axis":{"values":[1,2,3,4],"labelExpr":"['','Galactose metabolism','Fructose and mannose metabolism','Starch and sucrose metabolism','Amino sugar and nucleotide sugar metabolism'][datum.value]","labelFontSize":16,"labelColor":"#444","labelLimit":500,"labelOverlap":false,"labelPadding":5,"title":"KEGG pathway","titleFontSize":19,"titleFontWeight":"normal","titleColor":"#333","titleX":-352,"titleY":260,"domain":false,"tickColor":"#222","tickWidth":2,"tickSize":8}},"y2":{"field":"d"}}},
{"data":{"values":[{"x":0,"a":0.407,"b":4.593}]},"mark":{"type":"rule","strokeDash":[3,4],"color":"#dddddd","strokeWidth":1.5},"encoding":{"x":{"field":"x","type":"quantitative"},"y":{"field":"a","type":"quantitative"},"y2":{"field":"b"}}},
{"mark":{"type":"rule","color":"#dddddd","strokeWidth":5},"encoding":{"x":{"field":"v","type":"quantitative"},"x2":{"datum":0},"y":{"field":"r","type":"quantitative"}}},
{"mark":{"type":"point","filled":true,"size":320,"opacity":1},"encoding":{"x":{"field":"v","type":"quantitative"},"y":{"field":"r","type":"quantitative"},"color":{"datum":"Depleted in Dex-IONP−GOx","type":"nominal","scale":{"domain":["Depleted in Dex-IONP−GOx"],"range":["#ff7f78"]},"legend":{"title":null,"orient":"none","legendX":-42,"legendY":88,"symbolSize":320,"symbolOpacity":1,"labelFontSize":19.7,"labelColor":"#444","labelOffset":12,"labelLimit":400}}}},
{"data":{"values":[{"x":-1.209,"y":6.306,"s":"h"}]},"mark":{"type":"text","font":"Open Sans","fontSize":30,"fontWeight":"bold","color":"#000"},"encoding":{"x":{"field":"x","type":"quantitative"},"y":{"field":"y","type":"quantitative"},"text":{"field":"s"}}}]}
]}
]}
